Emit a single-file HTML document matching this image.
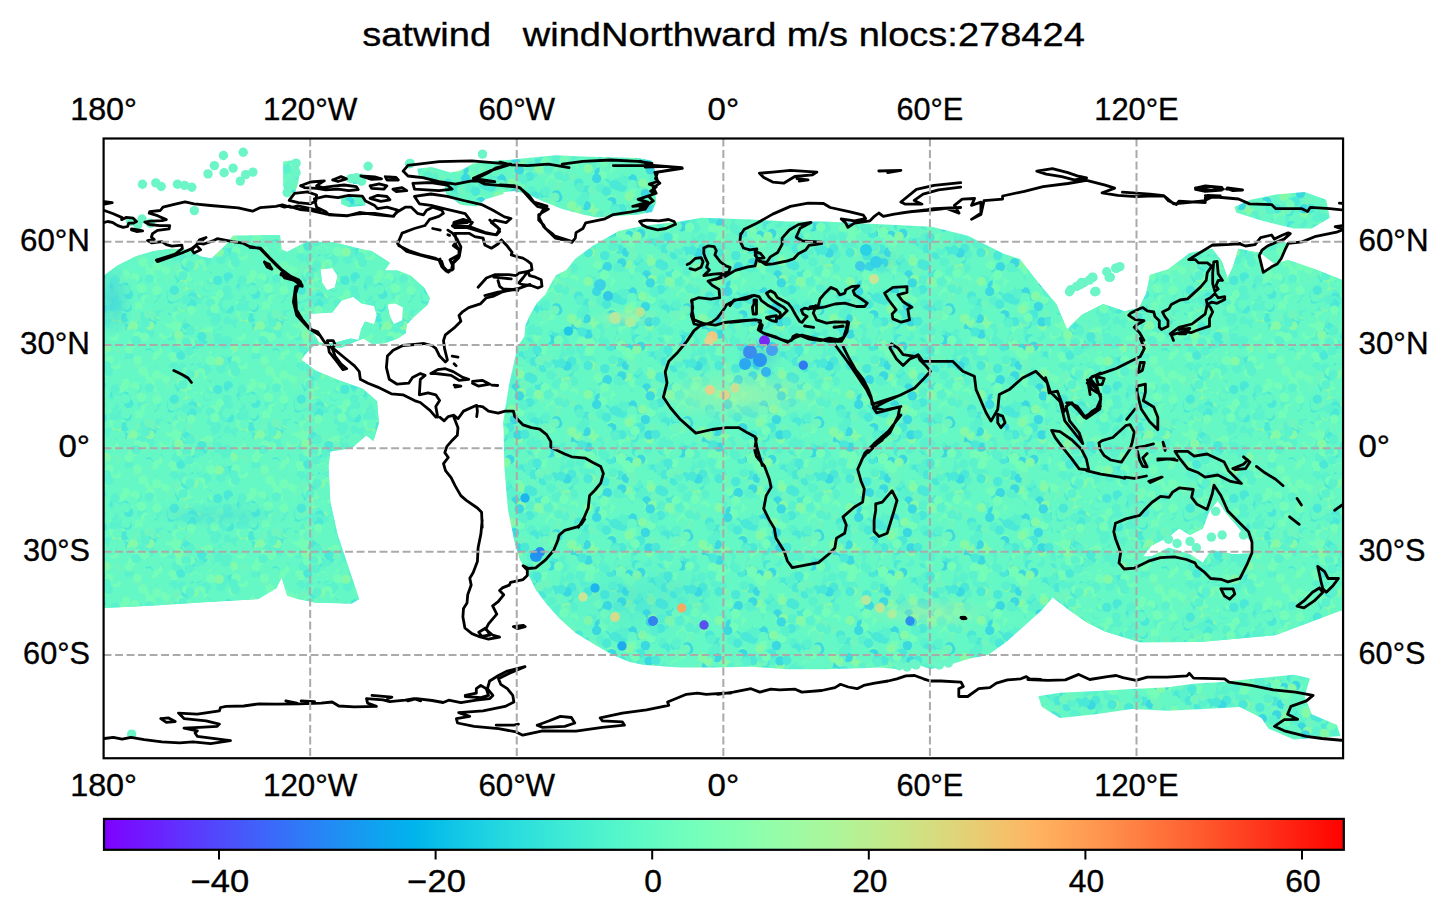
<!DOCTYPE html>
<html><head><meta charset="utf-8"><style>html,body{margin:0;padding:0;background:#fff;overflow:hidden}svg{display:block}</style></head>
<body><svg width="1447" height="917" viewBox="0 0 1447 917">
<rect width="1447" height="917" fill="#fff"/>
<defs><clipPath id="mapclip"><rect x="103.6" y="138.5" width="1239.48" height="619.74"/></clipPath></defs><defs><pattern id="dp" patternUnits="userSpaceOnUse" width="131" height="113"><rect width="131" height="113" fill="#64f8c6"/><circle cx="42.4" cy="17.0" r="4.7" fill="#74fdb9"/><circle cx="9.5" cy="60.6" r="4.7" fill="#5af2cd"/><circle cx="7.6" cy="57.3" r="4.7" fill="#66f8c4"/><circle cx="56.8" cy="7.9" r="4.7" fill="#66f8c4"/><circle cx="55.6" cy="93.4" r="4.7" fill="#66f8c4"/><circle cx="29.2" cy="70.9" r="4.7" fill="#6ef6be"/><circle cx="75.6" cy="44.8" r="4.7" fill="#6ef6be"/><circle cx="6.1" cy="97.0" r="4.7" fill="#66f8c4"/><circle cx="18.9" cy="13.3" r="4.7" fill="#5af2cd"/><circle cx="106.9" cy="20.4" r="4.7" fill="#74fdb9"/><circle cx="83.7" cy="42.1" r="4.7" fill="#74fdb9"/><circle cx="8.2" cy="6.7" r="4.7" fill="#66f8c4"/><circle cx="89.1" cy="48.3" r="4.7" fill="#5af2cd"/><circle cx="76.7" cy="51.2" r="4.7" fill="#66f8c4"/><circle cx="104.1" cy="79.0" r="4.7" fill="#66f8c4"/><circle cx="75.2" cy="59.3" r="4.7" fill="#3ad8e0"/><circle cx="95.6" cy="32.5" r="4.7" fill="#6ef6be"/><circle cx="15.5" cy="47.2" r="4.7" fill="#4ae8d6"/><circle cx="19.9" cy="55.3" r="4.7" fill="#66f8c4"/><circle cx="87.5" cy="86.4" r="4.7" fill="#74fdb9"/><circle cx="114.7" cy="35.5" r="4.7" fill="#4ae8d6"/><circle cx="77.9" cy="65.5" r="4.7" fill="#5af2cd"/><circle cx="110.0" cy="106.7" r="4.7" fill="#5af2cd"/><circle cx="87.0" cy="6.9" r="4.7" fill="#4ae8d6"/><circle cx="84.8" cy="-0.8" r="4.7" fill="#84f9a8"/><circle cx="84.8" cy="112.2" r="4.7" fill="#84f9a8"/><circle cx="37.3" cy="43.6" r="4.7" fill="#4ae8d6"/><circle cx="3.0" cy="52.2" r="4.7" fill="#66f8c4"/><circle cx="134.0" cy="52.2" r="4.7" fill="#66f8c4"/><circle cx="15.3" cy="6.7" r="4.7" fill="#4ae8d6"/><circle cx="16.9" cy="28.0" r="4.7" fill="#5af2cd"/><circle cx="114.2" cy="9.1" r="4.7" fill="#5af2cd"/><circle cx="72.0" cy="99.8" r="4.7" fill="#84f9a8"/><circle cx="113.2" cy="31.5" r="4.7" fill="#5af2cd"/><circle cx="47.0" cy="99.9" r="4.7" fill="#6ef6be"/><circle cx="19.8" cy="19.9" r="4.7" fill="#66f8c4"/><circle cx="30.6" cy="54.8" r="4.7" fill="#74fdb9"/><circle cx="34.4" cy="0.5" r="4.7" fill="#5af2cd"/><circle cx="34.4" cy="113.5" r="4.7" fill="#5af2cd"/><circle cx="48.4" cy="64.0" r="4.7" fill="#6ef6be"/><circle cx="90.5" cy="58.3" r="4.7" fill="#74fdb9"/><circle cx="88.6" cy="6.1" r="4.7" fill="#3ad8e0"/><circle cx="102.2" cy="98.8" r="4.7" fill="#84f9a8"/><circle cx="51.4" cy="45.1" r="4.7" fill="#66f8c4"/><circle cx="83.1" cy="7.0" r="4.7" fill="#66f8c4"/><circle cx="27.3" cy="18.3" r="4.7" fill="#5af2cd"/><circle cx="6.9" cy="0.0" r="4.7" fill="#66f8c4"/><circle cx="6.9" cy="113.0" r="4.7" fill="#66f8c4"/><circle cx="13.3" cy="41.1" r="4.7" fill="#66f8c4"/><circle cx="114.5" cy="69.4" r="4.7" fill="#66f8c4"/><circle cx="33.0" cy="39.3" r="4.7" fill="#5af2cd"/><circle cx="16.1" cy="95.9" r="4.7" fill="#6ef6be"/><circle cx="61.0" cy="54.7" r="4.7" fill="#66f8c4"/><circle cx="13.4" cy="38.7" r="4.7" fill="#66f8c4"/><circle cx="108.6" cy="18.2" r="4.7" fill="#66f8c4"/><circle cx="124.6" cy="59.7" r="4.7" fill="#66f8c4"/><circle cx="71.2" cy="3.1" r="4.7" fill="#74fdb9"/><circle cx="71.2" cy="116.1" r="4.7" fill="#74fdb9"/><circle cx="-2.8" cy="97.6" r="4.7" fill="#4ae8d6"/><circle cx="128.2" cy="97.6" r="4.7" fill="#4ae8d6"/><circle cx="34.2" cy="41.4" r="4.7" fill="#66f8c4"/><circle cx="101.1" cy="60.2" r="4.7" fill="#4ae8d6"/><circle cx="43.2" cy="25.2" r="4.7" fill="#84f9a8"/><circle cx="-2.0" cy="96.3" r="4.7" fill="#84f9a8"/><circle cx="129.0" cy="96.3" r="4.7" fill="#84f9a8"/><circle cx="107.2" cy="83.6" r="4.7" fill="#66f8c4"/><circle cx="67.8" cy="40.2" r="4.7" fill="#66f8c4"/><circle cx="3.7" cy="31.6" r="4.7" fill="#66f8c4"/><circle cx="134.7" cy="31.6" r="4.7" fill="#66f8c4"/><circle cx="90.7" cy="-4.9" r="4.7" fill="#5af2cd"/><circle cx="90.7" cy="108.1" r="4.7" fill="#5af2cd"/><circle cx="122.7" cy="-1.4" r="4.7" fill="#6ef6be"/><circle cx="122.7" cy="111.6" r="4.7" fill="#6ef6be"/><circle cx="47.8" cy="24.9" r="4.7" fill="#66f8c4"/><circle cx="25.8" cy="23.1" r="4.7" fill="#74fdb9"/><circle cx="117.9" cy="95.0" r="4.7" fill="#5af2cd"/><circle cx="85.5" cy="90.4" r="4.7" fill="#66f8c4"/><circle cx="86.5" cy="102.8" r="4.7" fill="#84f9a8"/><circle cx="98.3" cy="54.0" r="4.7" fill="#66f8c4"/><circle cx="103.4" cy="37.6" r="4.7" fill="#84f9a8"/><circle cx="-3.7" cy="44.7" r="4.7" fill="#5af2cd"/><circle cx="127.3" cy="44.7" r="4.7" fill="#5af2cd"/><circle cx="124.0" cy="81.9" r="4.7" fill="#66f8c4"/><circle cx="16.6" cy="17.1" r="4.7" fill="#3ad8e0"/><circle cx="105.7" cy="16.5" r="4.7" fill="#84f9a8"/><circle cx="-2.6" cy="74.3" r="4.7" fill="#5af2cd"/><circle cx="128.4" cy="74.3" r="4.7" fill="#5af2cd"/><circle cx="71.9" cy="14.8" r="4.7" fill="#66f8c4"/><circle cx="-3.8" cy="73.4" r="4.7" fill="#74fdb9"/><circle cx="127.2" cy="73.4" r="4.7" fill="#74fdb9"/><circle cx="122.3" cy="49.0" r="4.7" fill="#3ad8e0"/><circle cx="108.2" cy="23.8" r="4.7" fill="#66f8c4"/><circle cx="38.4" cy="27.2" r="4.7" fill="#74fdb9"/><circle cx="34.0" cy="47.3" r="4.7" fill="#66f8c4"/><circle cx="119.2" cy="40.0" r="4.7" fill="#5af2cd"/><circle cx="76.4" cy="102.2" r="4.7" fill="#5af2cd"/><circle cx="120.2" cy="56.7" r="4.7" fill="#74fdb9"/><circle cx="68.6" cy="2.1" r="4.7" fill="#5af2cd"/><circle cx="68.6" cy="115.1" r="4.7" fill="#5af2cd"/><circle cx="24.0" cy="0.4" r="4.7" fill="#84f9a8"/><circle cx="24.0" cy="113.4" r="4.7" fill="#84f9a8"/><circle cx="22.6" cy="53.5" r="4.7" fill="#4ae8d6"/><circle cx="72.9" cy="36.8" r="4.7" fill="#74fdb9"/><circle cx="72.8" cy="88.6" r="4.7" fill="#66f8c4"/><circle cx="73.4" cy="28.1" r="4.7" fill="#66f8c4"/><circle cx="101.2" cy="57.4" r="4.7" fill="#74fdb9"/><circle cx="99.6" cy="103.1" r="4.7" fill="#5af2cd"/><circle cx="80.2" cy="57.1" r="4.7" fill="#74fdb9"/><circle cx="90.7" cy="51.1" r="4.7" fill="#74fdb9"/><circle cx="62.6" cy="106.4" r="4.7" fill="#4ae8d6"/><circle cx="114.8" cy="106.5" r="4.7" fill="#66f8c4"/><circle cx="73.3" cy="106.6" r="4.7" fill="#84f9a8"/><circle cx="18.0" cy="13.7" r="4.7" fill="#5af2cd"/><circle cx="9.5" cy="27.2" r="4.7" fill="#66f8c4"/><circle cx="87.7" cy="88.6" r="4.7" fill="#3ad8e0"/><circle cx="20.2" cy="80.9" r="4.7" fill="#4ae8d6"/><circle cx="18.7" cy="99.8" r="4.7" fill="#6ef6be"/><circle cx="28.8" cy="107.6" r="4.7" fill="#5af2cd"/><circle cx="63.8" cy="-1.1" r="4.7" fill="#84f9a8"/><circle cx="63.8" cy="111.9" r="4.7" fill="#84f9a8"/><circle cx="21.2" cy="48.8" r="4.7" fill="#74fdb9"/><circle cx="44.4" cy="22.1" r="4.7" fill="#5af2cd"/><circle cx="94.6" cy="2.2" r="4.7" fill="#74fdb9"/><circle cx="94.6" cy="115.2" r="4.7" fill="#74fdb9"/><circle cx="57.7" cy="2.0" r="4.7" fill="#5af2cd"/><circle cx="57.7" cy="115.0" r="4.7" fill="#5af2cd"/><circle cx="81.7" cy="57.9" r="4.7" fill="#66f8c4"/><circle cx="-2.0" cy="89.1" r="4.7" fill="#6ef6be"/><circle cx="129.0" cy="89.1" r="4.7" fill="#6ef6be"/><circle cx="13.7" cy="30.0" r="4.7" fill="#66f8c4"/><circle cx="102.0" cy="30.6" r="4.7" fill="#66f8c4"/><circle cx="55.3" cy="103.0" r="4.7" fill="#84f9a8"/><circle cx="33.9" cy="16.9" r="4.7" fill="#3ad8e0"/><circle cx="74.7" cy="79.1" r="4.7" fill="#66f8c4"/><circle cx="7.5" cy="77.8" r="4.7" fill="#5af2cd"/><circle cx="9.5" cy="106.0" r="4.7" fill="#74fdb9"/><circle cx="105.0" cy="9.5" r="4.7" fill="#3ad8e0"/><circle cx="8.7" cy="97.5" r="4.7" fill="#5af2cd"/><circle cx="44.4" cy="62.5" r="4.7" fill="#6ef6be"/><circle cx="35.1" cy="14.6" r="4.7" fill="#74fdb9"/><circle cx="31.2" cy="12.4" r="4.7" fill="#66f8c4"/><circle cx="6.6" cy="22.8" r="4.7" fill="#5af2cd"/><circle cx="40.0" cy="85.8" r="4.7" fill="#66f8c4"/><circle cx="65.5" cy="20.1" r="4.7" fill="#5af2cd"/><circle cx="2.4" cy="28.3" r="4.7" fill="#66f8c4"/><circle cx="133.4" cy="28.3" r="4.7" fill="#66f8c4"/><circle cx="96.0" cy="62.3" r="4.7" fill="#66f8c4"/><circle cx="62.2" cy="105.6" r="4.7" fill="#66f8c4"/><circle cx="107.3" cy="48.8" r="4.7" fill="#5af2cd"/><circle cx="109.3" cy="44.4" r="4.7" fill="#74fdb9"/><circle cx="90.1" cy="-2.0" r="4.7" fill="#5af2cd"/><circle cx="90.1" cy="111.0" r="4.7" fill="#5af2cd"/><circle cx="109.0" cy="79.9" r="4.7" fill="#74fdb9"/><circle cx="53.0" cy="39.3" r="4.7" fill="#66f8c4"/><circle cx="17.0" cy="8.0" r="4.7" fill="#4ae8d6"/><circle cx="33.5" cy="18.4" r="4.7" fill="#66f8c4"/><circle cx="110.2" cy="98.4" r="4.7" fill="#4ae8d6"/><circle cx="36.9" cy="27.4" r="4.7" fill="#66f8c4"/><circle cx="60.2" cy="17.8" r="4.7" fill="#5af2cd"/><circle cx="34.5" cy="-4.3" r="4.7" fill="#6ef6be"/><circle cx="34.5" cy="108.7" r="4.7" fill="#6ef6be"/><circle cx="71.7" cy="27.6" r="4.7" fill="#6ef6be"/><circle cx="40.6" cy="40.3" r="4.7" fill="#66f8c4"/><circle cx="50.0" cy="53.6" r="4.7" fill="#74fdb9"/><circle cx="26.3" cy="57.0" r="4.7" fill="#66f8c4"/><circle cx="34.6" cy="10.1" r="4.7" fill="#5af2cd"/><circle cx="5.5" cy="2.5" r="4.7" fill="#5af2cd"/><circle cx="5.5" cy="115.5" r="4.7" fill="#5af2cd"/><circle cx="30.5" cy="66.2" r="4.7" fill="#74fdb9"/><circle cx="98.3" cy="74.3" r="4.7" fill="#4ae8d6"/><circle cx="115.2" cy="44.0" r="4.7" fill="#5af2cd"/><circle cx="-2.0" cy="16.9" r="4.7" fill="#4ae8d6"/><circle cx="129.0" cy="16.9" r="4.7" fill="#4ae8d6"/><circle cx="84.3" cy="4.9" r="4.7" fill="#84f9a8"/><circle cx="84.3" cy="117.9" r="4.7" fill="#84f9a8"/><circle cx="116.8" cy="70.9" r="4.7" fill="#4ae8d6"/><circle cx="106.4" cy="15.7" r="4.7" fill="#74fdb9"/><circle cx="66.1" cy="94.3" r="4.7" fill="#84f9a8"/><circle cx="108.3" cy="66.0" r="4.7" fill="#3ad8e0"/><circle cx="89.5" cy="78.3" r="4.7" fill="#66f8c4"/><circle cx="4.1" cy="15.0" r="4.7" fill="#5af2cd"/><circle cx="135.1" cy="15.0" r="4.7" fill="#5af2cd"/><circle cx="13.7" cy="94.4" r="4.7" fill="#74fdb9"/><circle cx="82.2" cy="70.8" r="4.7" fill="#4ae8d6"/><circle cx="64.1" cy="0.4" r="4.7" fill="#84f9a8"/><circle cx="64.1" cy="113.4" r="4.7" fill="#84f9a8"/><circle cx="98.0" cy="56.8" r="4.7" fill="#74fdb9"/><circle cx="86.4" cy="7.5" r="4.7" fill="#4ae8d6"/><circle cx="33.0" cy="8.4" r="4.7" fill="#66f8c4"/><circle cx="95.5" cy="23.2" r="4.7" fill="#4ae8d6"/><circle cx="-3.2" cy="55.8" r="4.7" fill="#5af2cd"/><circle cx="127.8" cy="55.8" r="4.7" fill="#5af2cd"/><circle cx="62.8" cy="77.3" r="4.7" fill="#4ae8d6"/><circle cx="80.8" cy="72.6" r="4.7" fill="#66f8c4"/><circle cx="19.3" cy="28.7" r="4.7" fill="#4ae8d6"/><circle cx="39.9" cy="64.2" r="4.7" fill="#66f8c4"/><circle cx="7.9" cy="30.4" r="4.7" fill="#4ae8d6"/><circle cx="90.7" cy="76.4" r="4.7" fill="#66f8c4"/><circle cx="67.7" cy="52.5" r="4.7" fill="#5af2cd"/><circle cx="15.5" cy="101.0" r="4.7" fill="#66f8c4"/><circle cx="-2.9" cy="105.8" r="4.7" fill="#66f8c4"/><circle cx="128.1" cy="105.8" r="4.7" fill="#66f8c4"/><circle cx="60.1" cy="92.6" r="4.7" fill="#6ef6be"/><circle cx="58.9" cy="30.4" r="4.7" fill="#66f8c4"/><circle cx="123.9" cy="23.8" r="4.7" fill="#74fdb9"/><circle cx="18.6" cy="59.2" r="4.7" fill="#6ef6be"/><circle cx="17.4" cy="92.7" r="4.7" fill="#74fdb9"/><circle cx="116.2" cy="79.5" r="4.7" fill="#66f8c4"/><circle cx="117.6" cy="54.9" r="4.7" fill="#66f8c4"/><circle cx="0.5" cy="55.6" r="4.7" fill="#5af2cd"/><circle cx="131.5" cy="55.6" r="4.7" fill="#5af2cd"/><circle cx="39.6" cy="15.9" r="4.7" fill="#5af2cd"/><circle cx="41.4" cy="94.9" r="4.7" fill="#66f8c4"/><circle cx="98.3" cy="94.8" r="4.7" fill="#66f8c4"/><circle cx="121.4" cy="80.6" r="4.7" fill="#3ad8e0"/><circle cx="38.0" cy="42.1" r="4.7" fill="#5af2cd"/><circle cx="-0.2" cy="66.6" r="4.7" fill="#5af2cd"/><circle cx="130.8" cy="66.6" r="4.7" fill="#5af2cd"/><circle cx="56.1" cy="31.1" r="4.7" fill="#66f8c4"/><circle cx="13.3" cy="94.3" r="4.7" fill="#66f8c4"/><circle cx="122.6" cy="28.2" r="4.7" fill="#66f8c4"/><circle cx="66.9" cy="21.5" r="4.7" fill="#5af2cd"/><circle cx="125.3" cy="99.9" r="4.7" fill="#84f9a8"/><circle cx="82.6" cy="103.2" r="4.7" fill="#6ef6be"/><circle cx="71.9" cy="81.3" r="4.7" fill="#66f8c4"/><circle cx="95.9" cy="50.9" r="4.7" fill="#4ae8d6"/><circle cx="84.4" cy="32.3" r="4.7" fill="#66f8c4"/><circle cx="121.4" cy="14.4" r="4.7" fill="#5af2cd"/><circle cx="45.0" cy="33.6" r="4.7" fill="#4ae8d6"/><circle cx="-3.1" cy="29.4" r="4.7" fill="#74fdb9"/><circle cx="127.9" cy="29.4" r="4.7" fill="#74fdb9"/><circle cx="39.4" cy="63.0" r="4.7" fill="#5af2cd"/><circle cx="21.9" cy="18.3" r="4.7" fill="#66f8c4"/><circle cx="118.7" cy="56.2" r="4.7" fill="#66f8c4"/><circle cx="118.7" cy="-0.4" r="4.7" fill="#5af2cd"/><circle cx="118.7" cy="112.6" r="4.7" fill="#5af2cd"/><circle cx="18.3" cy="21.7" r="4.7" fill="#66f8c4"/><circle cx="44.8" cy="10.3" r="4.7" fill="#66f8c4"/><circle cx="33.8" cy="64.4" r="4.7" fill="#3ad8e0"/><circle cx="98.2" cy="46.6" r="4.7" fill="#5af2cd"/><circle cx="68.7" cy="42.6" r="4.7" fill="#5af2cd"/><circle cx="8.1" cy="31.4" r="4.7" fill="#6ef6be"/><circle cx="16.5" cy="56.9" r="4.7" fill="#74fdb9"/><circle cx="113.0" cy="24.4" r="4.7" fill="#66f8c4"/><circle cx="32.5" cy="45.2" r="4.7" fill="#5af2cd"/><circle cx="125.0" cy="95.9" r="4.7" fill="#3ad8e0"/><circle cx="2.9" cy="3.6" r="4.7" fill="#4ae8d6"/><circle cx="2.9" cy="116.6" r="4.7" fill="#4ae8d6"/><circle cx="133.9" cy="3.6" r="4.7" fill="#4ae8d6"/><circle cx="133.9" cy="116.6" r="4.7" fill="#4ae8d6"/><circle cx="117.3" cy="53.5" r="4.7" fill="#74fdb9"/><circle cx="0.0" cy="44.2" r="4.7" fill="#6ef6be"/><circle cx="131.0" cy="44.2" r="4.7" fill="#6ef6be"/><circle cx="108.2" cy="96.7" r="4.7" fill="#6ef6be"/><circle cx="32.5" cy="12.3" r="4.7" fill="#66f8c4"/><circle cx="68.4" cy="77.1" r="4.7" fill="#6ef6be"/><circle cx="94.5" cy="73.2" r="4.7" fill="#4ae8d6"/><circle cx="59.9" cy="62.3" r="4.7" fill="#66f8c4"/><circle cx="102.5" cy="26.3" r="4.7" fill="#3ad8e0"/><circle cx="84.6" cy="34.3" r="4.7" fill="#66f8c4"/><circle cx="33.0" cy="71.9" r="4.7" fill="#4ae8d6"/><circle cx="14.7" cy="7.9" r="4.7" fill="#74fdb9"/><circle cx="76.4" cy="43.9" r="4.7" fill="#66f8c4"/><circle cx="78.7" cy="1.2" r="4.7" fill="#5af2cd"/><circle cx="78.7" cy="114.2" r="4.7" fill="#5af2cd"/><circle cx="60.4" cy="-4.6" r="4.7" fill="#74fdb9"/><circle cx="60.4" cy="108.4" r="4.7" fill="#74fdb9"/><circle cx="115.8" cy="53.7" r="4.7" fill="#66f8c4"/><circle cx="32.4" cy="-4.5" r="4.7" fill="#4ae8d6"/><circle cx="32.4" cy="108.5" r="4.7" fill="#4ae8d6"/><circle cx="40.3" cy="2.5" r="4.7" fill="#5af2cd"/><circle cx="40.3" cy="115.5" r="4.7" fill="#5af2cd"/><circle cx="88.4" cy="47.5" r="4.7" fill="#66f8c4"/><circle cx="87.4" cy="104.5" r="4.7" fill="#66f8c4"/><circle cx="4.5" cy="38.2" r="4.7" fill="#5af2cd"/><circle cx="135.5" cy="38.2" r="4.7" fill="#5af2cd"/><circle cx="89.4" cy="22.4" r="4.7" fill="#84f9a8"/><circle cx="96.8" cy="57.1" r="4.7" fill="#66f8c4"/><circle cx="-3.9" cy="35.2" r="4.7" fill="#84f9a8"/><circle cx="127.1" cy="35.2" r="4.7" fill="#84f9a8"/><circle cx="30.2" cy="25.0" r="4.7" fill="#4ae8d6"/><circle cx="38.6" cy="107.6" r="4.7" fill="#5af2cd"/><circle cx="24.5" cy="25.2" r="4.7" fill="#5af2cd"/><circle cx="87.2" cy="107.2" r="4.7" fill="#66f8c4"/><circle cx="51.5" cy="24.1" r="4.7" fill="#6ef6be"/><circle cx="18.6" cy="5.9" r="4.7" fill="#66f8c4"/><circle cx="51.5" cy="101.5" r="4.7" fill="#3ad8e0"/><circle cx="96.0" cy="-0.3" r="4.7" fill="#6ef6be"/><circle cx="96.0" cy="112.7" r="4.7" fill="#6ef6be"/><circle cx="43.1" cy="21.0" r="4.7" fill="#6ef6be"/><circle cx="97.8" cy="3.6" r="4.7" fill="#4ae8d6"/><circle cx="97.8" cy="116.6" r="4.7" fill="#4ae8d6"/><circle cx="49.6" cy="42.2" r="4.7" fill="#5af2cd"/><circle cx="22.2" cy="0.3" r="4.7" fill="#66f8c4"/><circle cx="22.2" cy="113.3" r="4.7" fill="#66f8c4"/><circle cx="46.0" cy="108.0" r="4.7" fill="#66f8c4"/><circle cx="-4.7" cy="23.4" r="4.7" fill="#5af2cd"/><circle cx="126.3" cy="23.4" r="4.7" fill="#5af2cd"/><circle cx="107.6" cy="92.9" r="4.7" fill="#5af2cd"/><circle cx="6.5" cy="53.5" r="4.7" fill="#5af2cd"/><circle cx="120.5" cy="21.8" r="4.7" fill="#5af2cd"/><circle cx="117.5" cy="3.4" r="4.7" fill="#5af2cd"/><circle cx="117.5" cy="116.4" r="4.7" fill="#5af2cd"/><circle cx="106.3" cy="86.6" r="4.7" fill="#66f8c4"/><circle cx="4.6" cy="7.1" r="4.7" fill="#6ef6be"/><circle cx="135.6" cy="7.1" r="4.7" fill="#6ef6be"/><circle cx="33.7" cy="84.4" r="4.7" fill="#3ad8e0"/><circle cx="44.4" cy="30.8" r="4.7" fill="#6ef6be"/><circle cx="80.8" cy="29.6" r="4.7" fill="#4ae8d6"/><circle cx="41.5" cy="31.1" r="4.7" fill="#66f8c4"/><circle cx="99.0" cy="103.6" r="4.7" fill="#74fdb9"/><circle cx="123.6" cy="2.7" r="4.7" fill="#66f8c4"/><circle cx="123.6" cy="115.7" r="4.7" fill="#66f8c4"/><circle cx="62.2" cy="-4.9" r="4.7" fill="#6ef6be"/><circle cx="62.2" cy="108.1" r="4.7" fill="#6ef6be"/><circle cx="50.6" cy="28.4" r="4.7" fill="#5af2cd"/><circle cx="64.6" cy="104.9" r="4.7" fill="#66f8c4"/><circle cx="105.1" cy="83.4" r="4.7" fill="#84f9a8"/><circle cx="101.2" cy="68.6" r="4.7" fill="#5af2cd"/><circle cx="41.9" cy="40.9" r="4.7" fill="#84f9a8"/><circle cx="10.4" cy="22.3" r="4.7" fill="#4ae8d6"/><circle cx="32.4" cy="7.3" r="4.7" fill="#66f8c4"/><circle cx="72.4" cy="36.8" r="4.7" fill="#6ef6be"/><circle cx="115.7" cy="-1.4" r="4.7" fill="#66f8c4"/><circle cx="115.7" cy="111.6" r="4.7" fill="#66f8c4"/><circle cx="11.0" cy="10.9" r="4.7" fill="#5af2cd"/><circle cx="93.0" cy="50.5" r="4.7" fill="#66f8c4"/><circle cx="54.6" cy="70.1" r="4.7" fill="#4ae8d6"/><circle cx="98.0" cy="95.7" r="4.7" fill="#4ae8d6"/><circle cx="15.9" cy="95.0" r="4.7" fill="#66f8c4"/><circle cx="74.3" cy="42.1" r="4.7" fill="#4ae8d6"/><circle cx="26.1" cy="28.0" r="4.7" fill="#66f8c4"/><circle cx="20.1" cy="99.9" r="4.7" fill="#74fdb9"/><circle cx="42.8" cy="44.8" r="4.7" fill="#6ef6be"/><circle cx="66.5" cy="26.1" r="4.7" fill="#84f9a8"/><circle cx="85.6" cy="-1.0" r="4.7" fill="#66f8c4"/><circle cx="85.6" cy="112.0" r="4.7" fill="#66f8c4"/><circle cx="62.2" cy="92.6" r="4.7" fill="#3ad8e0"/><circle cx="119.8" cy="4.6" r="4.7" fill="#66f8c4"/><circle cx="119.8" cy="117.6" r="4.7" fill="#66f8c4"/><circle cx="15.6" cy="21.4" r="4.7" fill="#6ef6be"/><circle cx="76.4" cy="105.1" r="4.7" fill="#5af2cd"/><circle cx="113.5" cy="50.7" r="4.7" fill="#66f8c4"/><circle cx="101.9" cy="106.9" r="4.7" fill="#66f8c4"/><circle cx="78.1" cy="70.1" r="4.7" fill="#66f8c4"/><circle cx="48.3" cy="16.0" r="4.7" fill="#66f8c4"/><circle cx="33.4" cy="67.7" r="4.7" fill="#74fdb9"/><circle cx="26.7" cy="1.3" r="4.7" fill="#5af2cd"/><circle cx="26.7" cy="114.3" r="4.7" fill="#5af2cd"/><circle cx="88.9" cy="20.9" r="4.7" fill="#5af2cd"/><circle cx="26.6" cy="89.9" r="4.7" fill="#74fdb9"/><circle cx="8.3" cy="11.5" r="4.7" fill="#5af2cd"/><circle cx="72.1" cy="72.2" r="4.7" fill="#66f8c4"/><circle cx="21.4" cy="78.6" r="4.7" fill="#5af2cd"/><circle cx="37.1" cy="34.8" r="4.7" fill="#6ef6be"/><circle cx="40.9" cy="64.0" r="4.7" fill="#5af2cd"/><circle cx="54.6" cy="97.7" r="4.7" fill="#6ef6be"/><circle cx="47.7" cy="22.3" r="4.7" fill="#4ae8d6"/><circle cx="26.7" cy="0.7" r="4.7" fill="#3ad8e0"/><circle cx="26.7" cy="113.7" r="4.7" fill="#3ad8e0"/><circle cx="55.5" cy="92.7" r="4.7" fill="#5af2cd"/><circle cx="115.7" cy="52.1" r="4.7" fill="#66f8c4"/><circle cx="1.9" cy="62.3" r="4.7" fill="#74fdb9"/><circle cx="132.9" cy="62.3" r="4.7" fill="#74fdb9"/><circle cx="119.2" cy="10.1" r="4.7" fill="#74fdb9"/><circle cx="48.6" cy="57.0" r="4.7" fill="#66f8c4"/><circle cx="37.1" cy="58.9" r="4.7" fill="#6ef6be"/><circle cx="14.3" cy="55.4" r="4.7" fill="#84f9a8"/><circle cx="-4.3" cy="22.3" r="4.7" fill="#66f8c4"/><circle cx="126.7" cy="22.3" r="4.7" fill="#66f8c4"/><circle cx="123.5" cy="-2.8" r="4.7" fill="#5af2cd"/><circle cx="123.5" cy="110.2" r="4.7" fill="#5af2cd"/><circle cx="7.0" cy="104.7" r="4.7" fill="#5af2cd"/><circle cx="118.5" cy="70.1" r="4.7" fill="#84f9a8"/><circle cx="21.0" cy="88.8" r="4.7" fill="#66f8c4"/><circle cx="53.0" cy="95.6" r="4.7" fill="#84f9a8"/><circle cx="24.0" cy="24.6" r="4.7" fill="#5af2cd"/><circle cx="67.8" cy="43.3" r="4.7" fill="#66f8c4"/><circle cx="32.4" cy="81.9" r="4.7" fill="#3ad8e0"/><circle cx="5.4" cy="63.5" r="4.7" fill="#4ae8d6"/><circle cx="5.0" cy="94.7" r="4.7" fill="#66f8c4"/><circle cx="136.0" cy="94.7" r="4.7" fill="#66f8c4"/><circle cx="78.5" cy="62.2" r="4.7" fill="#74fdb9"/><circle cx="40.1" cy="47.5" r="4.7" fill="#74fdb9"/><circle cx="55.8" cy="74.4" r="4.7" fill="#5af2cd"/><circle cx="57.4" cy="2.6" r="4.7" fill="#74fdb9"/><circle cx="57.4" cy="115.6" r="4.7" fill="#74fdb9"/><circle cx="64.1" cy="26.6" r="4.7" fill="#4ae8d6"/><circle cx="102.2" cy="51.8" r="4.7" fill="#66f8c4"/><circle cx="62.0" cy="12.1" r="4.7" fill="#66f8c4"/><circle cx="56.4" cy="10.4" r="4.7" fill="#5af2cd"/><circle cx="66.8" cy="4.6" r="4.7" fill="#74fdb9"/><circle cx="66.8" cy="117.6" r="4.7" fill="#74fdb9"/><circle cx="10.8" cy="82.9" r="4.7" fill="#4ae8d6"/><circle cx="67.0" cy="6.1" r="4.7" fill="#74fdb9"/><circle cx="49.5" cy="107.4" r="4.7" fill="#66f8c4"/><circle cx="112.3" cy="-0.4" r="4.7" fill="#4ae8d6"/><circle cx="112.3" cy="112.6" r="4.7" fill="#4ae8d6"/><circle cx="106.8" cy="21.9" r="4.7" fill="#6ef6be"/><circle cx="64.4" cy="-4.9" r="4.7" fill="#3ad8e0"/><circle cx="64.4" cy="108.1" r="4.7" fill="#3ad8e0"/><circle cx="21.6" cy="89.1" r="4.7" fill="#6ef6be"/><circle cx="8.6" cy="39.7" r="4.7" fill="#4ae8d6"/><circle cx="20.8" cy="101.3" r="4.7" fill="#66f8c4"/><circle cx="106.8" cy="16.2" r="4.7" fill="#74fdb9"/><circle cx="120.5" cy="23.5" r="4.7" fill="#66f8c4"/><circle cx="66.3" cy="36.1" r="4.7" fill="#66f8c4"/><circle cx="23.9" cy="18.2" r="4.7" fill="#6ef6be"/><circle cx="89.0" cy="101.2" r="4.7" fill="#66f8c4"/><circle cx="102.8" cy="13.0" r="4.7" fill="#74fdb9"/><circle cx="83.4" cy="40.7" r="4.7" fill="#3ad8e0"/><circle cx="72.7" cy="65.5" r="4.7" fill="#3ad8e0"/><circle cx="13.7" cy="-0.8" r="4.7" fill="#74fdb9"/><circle cx="13.7" cy="112.2" r="4.7" fill="#74fdb9"/><circle cx="51.6" cy="90.1" r="4.7" fill="#66f8c4"/><circle cx="-1.2" cy="65.2" r="4.7" fill="#5af2cd"/><circle cx="129.8" cy="65.2" r="4.7" fill="#5af2cd"/><circle cx="100.2" cy="50.0" r="4.7" fill="#66f8c4"/><circle cx="97.4" cy="5.5" r="4.7" fill="#84f9a8"/><circle cx="33.2" cy="72.2" r="4.7" fill="#6ef6be"/><circle cx="76.7" cy="75.0" r="4.7" fill="#5af2cd"/><circle cx="0.2" cy="3.8" r="4.7" fill="#66f8c4"/><circle cx="0.2" cy="116.8" r="4.7" fill="#66f8c4"/><circle cx="131.2" cy="3.8" r="4.7" fill="#66f8c4"/><circle cx="131.2" cy="116.8" r="4.7" fill="#66f8c4"/><circle cx="80.7" cy="48.8" r="4.7" fill="#74fdb9"/><circle cx="117.3" cy="14.9" r="4.7" fill="#66f8c4"/><circle cx="85.6" cy="2.5" r="4.7" fill="#66f8c4"/><circle cx="85.6" cy="115.5" r="4.7" fill="#66f8c4"/><circle cx="46.5" cy="12.0" r="4.7" fill="#5af2cd"/><circle cx="29.4" cy="65.9" r="4.7" fill="#74fdb9"/><circle cx="26.7" cy="70.5" r="4.7" fill="#5af2cd"/><circle cx="17.7" cy="105.8" r="4.7" fill="#66f8c4"/><circle cx="19.6" cy="10.8" r="4.7" fill="#74fdb9"/><circle cx="114.1" cy="88.4" r="4.7" fill="#5af2cd"/><circle cx="34.6" cy="1.3" r="4.7" fill="#74fdb9"/><circle cx="34.6" cy="114.3" r="4.7" fill="#74fdb9"/><circle cx="73.7" cy="39.6" r="4.7" fill="#74fdb9"/><circle cx="58.1" cy="105.9" r="4.7" fill="#4ae8d6"/><circle cx="32.6" cy="102.1" r="4.7" fill="#66f8c4"/><circle cx="69.6" cy="45.9" r="4.7" fill="#66f8c4"/><circle cx="7.6" cy="88.0" r="4.7" fill="#66f8c4"/><circle cx="72.2" cy="106.3" r="4.7" fill="#66f8c4"/><circle cx="26.1" cy="68.7" r="4.7" fill="#74fdb9"/><circle cx="84.0" cy="91.9" r="4.7" fill="#66f8c4"/><circle cx="40.5" cy="33.9" r="4.7" fill="#66f8c4"/><circle cx="116.5" cy="88.5" r="4.7" fill="#4ae8d6"/><circle cx="0.8" cy="95.4" r="4.7" fill="#4ae8d6"/><circle cx="131.8" cy="95.4" r="4.7" fill="#4ae8d6"/><circle cx="60.9" cy="83.8" r="4.7" fill="#5af2cd"/><circle cx="29.6" cy="11.9" r="4.7" fill="#66f8c4"/><circle cx="5.1" cy="37.9" r="4.7" fill="#4ae8d6"/><circle cx="91.1" cy="95.5" r="4.7" fill="#4ae8d6"/><circle cx="34.8" cy="62.6" r="4.7" fill="#5af2cd"/><circle cx="103.3" cy="59.1" r="4.7" fill="#66f8c4"/><circle cx="84.1" cy="-3.9" r="4.7" fill="#66f8c4"/><circle cx="84.1" cy="109.1" r="4.7" fill="#66f8c4"/><circle cx="115.3" cy="1.7" r="4.7" fill="#66f8c4"/><circle cx="115.3" cy="114.7" r="4.7" fill="#66f8c4"/><circle cx="30.9" cy="84.1" r="4.7" fill="#6ef6be"/><circle cx="97.7" cy="36.9" r="4.7" fill="#3ad8e0"/><circle cx="43.0" cy="27.0" r="4.7" fill="#3ad8e0"/><circle cx="82.6" cy="78.3" r="4.7" fill="#4ae8d6"/><circle cx="-2.7" cy="53.1" r="4.7" fill="#84f9a8"/><circle cx="128.3" cy="53.1" r="4.7" fill="#84f9a8"/><circle cx="91.4" cy="96.9" r="4.7" fill="#5af2cd"/><circle cx="94.9" cy="64.4" r="4.7" fill="#5af2cd"/><circle cx="27.8" cy="70.4" r="4.7" fill="#66f8c4"/><circle cx="119.3" cy="16.3" r="4.7" fill="#66f8c4"/><circle cx="14.0" cy="105.0" r="4.7" fill="#5af2cd"/><circle cx="18.6" cy="3.2" r="4.7" fill="#66f8c4"/><circle cx="18.6" cy="116.2" r="4.7" fill="#66f8c4"/><circle cx="90.7" cy="71.6" r="4.7" fill="#4ae8d6"/><circle cx="96.5" cy="7.4" r="4.7" fill="#74fdb9"/><circle cx="47.6" cy="92.4" r="4.7" fill="#84f9a8"/><circle cx="116.8" cy="7.5" r="4.7" fill="#3ad8e0"/><circle cx="119.8" cy="106.7" r="4.7" fill="#66f8c4"/><circle cx="26.9" cy="12.7" r="4.7" fill="#66f8c4"/><circle cx="111.1" cy="91.8" r="4.7" fill="#74fdb9"/><circle cx="108.1" cy="71.4" r="4.7" fill="#66f8c4"/><circle cx="13.1" cy="11.1" r="4.7" fill="#4ae8d6"/><circle cx="26.9" cy="36.1" r="4.7" fill="#5af2cd"/><circle cx="2.7" cy="29.0" r="4.7" fill="#66f8c4"/><circle cx="133.7" cy="29.0" r="4.7" fill="#66f8c4"/><circle cx="93.8" cy="41.6" r="4.7" fill="#5af2cd"/><circle cx="-4.7" cy="56.9" r="4.7" fill="#3ad8e0"/><circle cx="126.3" cy="56.9" r="4.7" fill="#3ad8e0"/><circle cx="81.0" cy="3.5" r="4.7" fill="#5af2cd"/><circle cx="81.0" cy="116.5" r="4.7" fill="#5af2cd"/><circle cx="57.2" cy="87.4" r="4.7" fill="#5af2cd"/><circle cx="92.3" cy="60.8" r="4.7" fill="#66f8c4"/><circle cx="113.0" cy="10.3" r="4.7" fill="#84f9a8"/><circle cx="22.3" cy="0.1" r="4.7" fill="#66f8c4"/><circle cx="22.3" cy="113.1" r="4.7" fill="#66f8c4"/><circle cx="99.8" cy="-2.5" r="4.7" fill="#66f8c4"/><circle cx="99.8" cy="110.5" r="4.7" fill="#66f8c4"/><circle cx="64.3" cy="55.5" r="4.7" fill="#84f9a8"/><circle cx="24.2" cy="55.9" r="4.7" fill="#5af2cd"/><circle cx="109.0" cy="29.4" r="4.7" fill="#6ef6be"/><circle cx="37.2" cy="24.3" r="4.7" fill="#4ae8d6"/><circle cx="65.3" cy="12.4" r="4.7" fill="#74fdb9"/></pattern></defs><defs><pattern id="dpA" patternUnits="userSpaceOnUse" width="127" height="109"><rect width="127" height="109" fill="#64f8c6"/><circle cx="57.5" cy="61.0" r="4.7" fill="#84f9a8"/><circle cx="59.1" cy="55.4" r="4.7" fill="#5af2cd"/><circle cx="23.5" cy="55.8" r="4.7" fill="#74fdb9"/><circle cx="100.7" cy="10.3" r="4.7" fill="#66f8c4"/><circle cx="11.5" cy="88.3" r="4.7" fill="#74fdb9"/><circle cx="5.3" cy="-1.9" r="4.7" fill="#6ef6be"/><circle cx="5.3" cy="107.1" r="4.7" fill="#6ef6be"/><circle cx="83.0" cy="67.1" r="4.7" fill="#66f8c4"/><circle cx="1.9" cy="57.6" r="4.7" fill="#66f8c4"/><circle cx="128.9" cy="57.6" r="4.7" fill="#66f8c4"/><circle cx="24.2" cy="26.4" r="4.7" fill="#66f8c4"/><circle cx="58.9" cy="48.0" r="4.7" fill="#4ae8d6"/><circle cx="65.9" cy="69.8" r="4.7" fill="#5af2cd"/><circle cx="84.1" cy="49.8" r="4.7" fill="#66f8c4"/><circle cx="-0.3" cy="-0.5" r="4.7" fill="#4ae8d6"/><circle cx="-0.3" cy="108.5" r="4.7" fill="#4ae8d6"/><circle cx="126.7" cy="-0.5" r="4.7" fill="#4ae8d6"/><circle cx="126.7" cy="108.5" r="4.7" fill="#4ae8d6"/><circle cx="89.9" cy="34.4" r="4.7" fill="#66f8c4"/><circle cx="36.7" cy="7.7" r="4.7" fill="#74fdb9"/><circle cx="50.9" cy="92.3" r="4.7" fill="#5af2cd"/><circle cx="121.7" cy="92.4" r="4.7" fill="#66f8c4"/><circle cx="26.6" cy="99.2" r="4.7" fill="#5af2cd"/><circle cx="-2.5" cy="43.3" r="4.7" fill="#66f8c4"/><circle cx="124.5" cy="43.3" r="4.7" fill="#66f8c4"/><circle cx="79.9" cy="84.9" r="4.7" fill="#66f8c4"/><circle cx="11.1" cy="36.3" r="4.7" fill="#6ef6be"/><circle cx="96.3" cy="12.9" r="4.7" fill="#66f8c4"/><circle cx="12.8" cy="6.5" r="4.7" fill="#74fdb9"/><circle cx="22.6" cy="61.0" r="4.7" fill="#5af2cd"/><circle cx="24.2" cy="79.8" r="4.7" fill="#66f8c4"/><circle cx="81.8" cy="12.7" r="4.7" fill="#5af2cd"/><circle cx="27.0" cy="29.4" r="4.7" fill="#6ef6be"/><circle cx="102.0" cy="33.2" r="4.7" fill="#4ae8d6"/><circle cx="26.8" cy="43.0" r="4.7" fill="#4ae8d6"/><circle cx="81.5" cy="10.9" r="4.7" fill="#6ef6be"/><circle cx="27.1" cy="28.2" r="4.7" fill="#74fdb9"/><circle cx="41.8" cy="32.3" r="4.7" fill="#66f8c4"/><circle cx="11.4" cy="63.5" r="4.7" fill="#66f8c4"/><circle cx="76.4" cy="40.5" r="4.7" fill="#5af2cd"/><circle cx="121.8" cy="52.7" r="4.7" fill="#5af2cd"/><circle cx="110.0" cy="19.9" r="4.7" fill="#66f8c4"/><circle cx="115.4" cy="89.1" r="4.7" fill="#66f8c4"/><circle cx="24.1" cy="80.6" r="4.7" fill="#84f9a8"/><circle cx="25.0" cy="103.6" r="4.7" fill="#4ae8d6"/><circle cx="76.6" cy="45.9" r="4.7" fill="#66f8c4"/><circle cx="4.9" cy="-4.1" r="4.7" fill="#66f8c4"/><circle cx="4.9" cy="104.9" r="4.7" fill="#66f8c4"/><circle cx="131.9" cy="-4.1" r="4.7" fill="#66f8c4"/><circle cx="131.9" cy="104.9" r="4.7" fill="#66f8c4"/><circle cx="89.5" cy="28.0" r="4.7" fill="#4ae8d6"/><circle cx="75.8" cy="32.0" r="4.7" fill="#66f8c4"/><circle cx="91.5" cy="7.5" r="4.7" fill="#66f8c4"/><circle cx="71.0" cy="92.9" r="4.7" fill="#5af2cd"/><circle cx="35.6" cy="100.0" r="4.7" fill="#66f8c4"/><circle cx="2.1" cy="29.3" r="4.7" fill="#5af2cd"/><circle cx="129.1" cy="29.3" r="4.7" fill="#5af2cd"/><circle cx="7.7" cy="19.2" r="4.7" fill="#66f8c4"/><circle cx="72.7" cy="14.3" r="4.7" fill="#66f8c4"/><circle cx="113.1" cy="-2.1" r="4.7" fill="#74fdb9"/><circle cx="113.1" cy="106.9" r="4.7" fill="#74fdb9"/><circle cx="87.8" cy="63.7" r="4.7" fill="#66f8c4"/><circle cx="4.5" cy="2.0" r="4.7" fill="#84f9a8"/><circle cx="4.5" cy="111.0" r="4.7" fill="#84f9a8"/><circle cx="131.5" cy="2.0" r="4.7" fill="#84f9a8"/><circle cx="131.5" cy="111.0" r="4.7" fill="#84f9a8"/><circle cx="89.0" cy="-4.1" r="4.7" fill="#66f8c4"/><circle cx="89.0" cy="104.9" r="4.7" fill="#66f8c4"/><circle cx="80.8" cy="52.6" r="4.7" fill="#74fdb9"/><circle cx="40.5" cy="-0.1" r="4.7" fill="#66f8c4"/><circle cx="40.5" cy="108.9" r="4.7" fill="#66f8c4"/><circle cx="69.4" cy="80.3" r="4.7" fill="#84f9a8"/><circle cx="93.6" cy="76.7" r="4.7" fill="#74fdb9"/><circle cx="116.2" cy="38.3" r="4.7" fill="#74fdb9"/><circle cx="114.4" cy="95.0" r="4.7" fill="#5af2cd"/><circle cx="100.4" cy="94.1" r="4.7" fill="#5af2cd"/><circle cx="79.4" cy="41.7" r="4.7" fill="#5af2cd"/><circle cx="77.3" cy="8.7" r="4.7" fill="#74fdb9"/><circle cx="-0.8" cy="95.9" r="4.7" fill="#74fdb9"/><circle cx="126.2" cy="95.9" r="4.7" fill="#74fdb9"/><circle cx="49.3" cy="80.1" r="4.7" fill="#5af2cd"/><circle cx="55.9" cy="91.4" r="4.7" fill="#66f8c4"/><circle cx="95.3" cy="3.2" r="4.7" fill="#5af2cd"/><circle cx="95.3" cy="112.2" r="4.7" fill="#5af2cd"/><circle cx="61.1" cy="25.1" r="4.7" fill="#74fdb9"/><circle cx="63.2" cy="67.0" r="4.7" fill="#84f9a8"/><circle cx="32.5" cy="1.2" r="4.7" fill="#66f8c4"/><circle cx="32.5" cy="110.2" r="4.7" fill="#66f8c4"/><circle cx="86.1" cy="22.1" r="4.7" fill="#66f8c4"/><circle cx="115.0" cy="71.9" r="4.7" fill="#5af2cd"/><circle cx="113.2" cy="35.6" r="4.7" fill="#74fdb9"/><circle cx="25.2" cy="47.0" r="4.7" fill="#4ae8d6"/><circle cx="116.1" cy="95.9" r="4.7" fill="#5af2cd"/><circle cx="74.1" cy="34.5" r="4.7" fill="#66f8c4"/><circle cx="63.1" cy="91.2" r="4.7" fill="#4ae8d6"/><circle cx="90.3" cy="103.6" r="4.7" fill="#66f8c4"/><circle cx="21.5" cy="49.1" r="4.7" fill="#66f8c4"/><circle cx="27.2" cy="45.1" r="4.7" fill="#74fdb9"/><circle cx="62.7" cy="34.4" r="4.7" fill="#4ae8d6"/><circle cx="-2.3" cy="49.3" r="4.7" fill="#66f8c4"/><circle cx="124.7" cy="49.3" r="4.7" fill="#66f8c4"/><circle cx="4.0" cy="95.1" r="4.7" fill="#66f8c4"/><circle cx="131.0" cy="95.1" r="4.7" fill="#66f8c4"/><circle cx="90.0" cy="62.2" r="4.7" fill="#66f8c4"/><circle cx="100.5" cy="2.1" r="4.7" fill="#66f8c4"/><circle cx="100.5" cy="111.1" r="4.7" fill="#66f8c4"/><circle cx="57.8" cy="2.7" r="4.7" fill="#4ae8d6"/><circle cx="57.8" cy="111.7" r="4.7" fill="#4ae8d6"/><circle cx="30.2" cy="15.4" r="4.7" fill="#66f8c4"/><circle cx="79.9" cy="48.7" r="4.7" fill="#74fdb9"/><circle cx="83.2" cy="88.0" r="4.7" fill="#6ef6be"/><circle cx="86.9" cy="21.7" r="4.7" fill="#5af2cd"/><circle cx="22.7" cy="1.2" r="4.7" fill="#5af2cd"/><circle cx="22.7" cy="110.2" r="4.7" fill="#5af2cd"/><circle cx="90.7" cy="19.5" r="4.7" fill="#66f8c4"/><circle cx="43.9" cy="76.0" r="4.7" fill="#5af2cd"/><circle cx="78.0" cy="82.4" r="4.7" fill="#5af2cd"/><circle cx="100.6" cy="98.8" r="4.7" fill="#66f8c4"/><circle cx="118.4" cy="78.7" r="4.7" fill="#66f8c4"/><circle cx="57.6" cy="68.2" r="4.7" fill="#84f9a8"/><circle cx="47.9" cy="62.0" r="4.7" fill="#4ae8d6"/><circle cx="101.2" cy="102.9" r="4.7" fill="#5af2cd"/><circle cx="82.7" cy="22.3" r="4.7" fill="#74fdb9"/><circle cx="103.9" cy="69.9" r="4.7" fill="#74fdb9"/><circle cx="27.1" cy="98.1" r="4.7" fill="#6ef6be"/><circle cx="-2.9" cy="58.5" r="4.7" fill="#74fdb9"/><circle cx="124.1" cy="58.5" r="4.7" fill="#74fdb9"/><circle cx="40.7" cy="99.2" r="4.7" fill="#4ae8d6"/><circle cx="44.3" cy="9.0" r="4.7" fill="#5af2cd"/><circle cx="69.9" cy="83.7" r="4.7" fill="#5af2cd"/><circle cx="3.6" cy="88.2" r="4.7" fill="#66f8c4"/><circle cx="130.6" cy="88.2" r="4.7" fill="#66f8c4"/><circle cx="101.6" cy="18.8" r="4.7" fill="#66f8c4"/><circle cx="100.1" cy="15.3" r="4.7" fill="#66f8c4"/><circle cx="65.6" cy="78.9" r="4.7" fill="#4ae8d6"/><circle cx="87.6" cy="103.1" r="4.7" fill="#5af2cd"/><circle cx="120.5" cy="9.4" r="4.7" fill="#66f8c4"/><circle cx="66.9" cy="31.6" r="4.7" fill="#74fdb9"/><circle cx="81.1" cy="57.0" r="4.7" fill="#4ae8d6"/><circle cx="71.1" cy="34.0" r="4.7" fill="#5af2cd"/><circle cx="107.3" cy="98.2" r="4.7" fill="#66f8c4"/><circle cx="108.0" cy="-3.4" r="4.7" fill="#5af2cd"/><circle cx="108.0" cy="105.6" r="4.7" fill="#5af2cd"/><circle cx="72.8" cy="21.9" r="4.7" fill="#5af2cd"/><circle cx="63.9" cy="66.0" r="4.7" fill="#66f8c4"/><circle cx="-3.9" cy="56.2" r="4.7" fill="#5af2cd"/><circle cx="123.1" cy="56.2" r="4.7" fill="#5af2cd"/><circle cx="101.7" cy="61.4" r="4.7" fill="#5af2cd"/><circle cx="87.8" cy="7.2" r="4.7" fill="#5af2cd"/><circle cx="52.5" cy="-4.7" r="4.7" fill="#84f9a8"/><circle cx="52.5" cy="104.3" r="4.7" fill="#84f9a8"/><circle cx="34.2" cy="51.6" r="4.7" fill="#66f8c4"/><circle cx="55.1" cy="88.9" r="4.7" fill="#84f9a8"/><circle cx="60.5" cy="34.6" r="4.7" fill="#66f8c4"/><circle cx="78.5" cy="100.9" r="4.7" fill="#66f8c4"/><circle cx="99.0" cy="2.5" r="4.7" fill="#66f8c4"/><circle cx="99.0" cy="111.5" r="4.7" fill="#66f8c4"/><circle cx="28.9" cy="74.9" r="4.7" fill="#66f8c4"/><circle cx="45.1" cy="67.6" r="4.7" fill="#66f8c4"/><circle cx="92.8" cy="13.4" r="4.7" fill="#5af2cd"/><circle cx="31.8" cy="21.6" r="4.7" fill="#5af2cd"/><circle cx="55.5" cy="41.0" r="4.7" fill="#5af2cd"/><circle cx="67.2" cy="17.4" r="4.7" fill="#66f8c4"/><circle cx="80.2" cy="69.6" r="4.7" fill="#5af2cd"/><circle cx="108.1" cy="66.7" r="4.7" fill="#4ae8d6"/><circle cx="29.5" cy="80.7" r="4.7" fill="#4ae8d6"/><circle cx="114.6" cy="34.4" r="4.7" fill="#66f8c4"/><circle cx="117.2" cy="23.8" r="4.7" fill="#6ef6be"/><circle cx="112.7" cy="14.6" r="4.7" fill="#66f8c4"/><circle cx="92.3" cy="28.3" r="4.7" fill="#66f8c4"/><circle cx="105.7" cy="46.0" r="4.7" fill="#74fdb9"/><circle cx="16.0" cy="43.9" r="4.7" fill="#74fdb9"/><circle cx="2.3" cy="21.9" r="4.7" fill="#74fdb9"/><circle cx="129.3" cy="21.9" r="4.7" fill="#74fdb9"/><circle cx="115.7" cy="-3.4" r="4.7" fill="#66f8c4"/><circle cx="115.7" cy="105.6" r="4.7" fill="#66f8c4"/><circle cx="64.2" cy="82.6" r="4.7" fill="#5af2cd"/><circle cx="87.1" cy="20.6" r="4.7" fill="#66f8c4"/><circle cx="13.5" cy="4.1" r="4.7" fill="#5af2cd"/><circle cx="13.5" cy="113.1" r="4.7" fill="#5af2cd"/><circle cx="65.4" cy="62.0" r="4.7" fill="#66f8c4"/><circle cx="23.4" cy="22.2" r="4.7" fill="#4ae8d6"/><circle cx="-1.2" cy="101.0" r="4.7" fill="#66f8c4"/><circle cx="125.8" cy="101.0" r="4.7" fill="#66f8c4"/><circle cx="7.9" cy="103.7" r="4.7" fill="#5af2cd"/><circle cx="97.1" cy="35.6" r="4.7" fill="#5af2cd"/><circle cx="65.4" cy="46.9" r="4.7" fill="#5af2cd"/><circle cx="1.7" cy="76.4" r="4.7" fill="#4ae8d6"/><circle cx="128.7" cy="76.4" r="4.7" fill="#4ae8d6"/><circle cx="23.0" cy="49.5" r="4.7" fill="#74fdb9"/><circle cx="51.5" cy="21.3" r="4.7" fill="#66f8c4"/><circle cx="65.1" cy="1.7" r="4.7" fill="#4ae8d6"/><circle cx="65.1" cy="110.7" r="4.7" fill="#4ae8d6"/><circle cx="101.8" cy="76.8" r="4.7" fill="#4ae8d6"/><circle cx="79.9" cy="44.1" r="4.7" fill="#5af2cd"/><circle cx="64.0" cy="-1.9" r="4.7" fill="#4ae8d6"/><circle cx="64.0" cy="107.1" r="4.7" fill="#4ae8d6"/><circle cx="32.8" cy="99.3" r="4.7" fill="#74fdb9"/><circle cx="98.8" cy="88.8" r="4.7" fill="#5af2cd"/><circle cx="113.9" cy="95.9" r="4.7" fill="#74fdb9"/><circle cx="97.4" cy="83.4" r="4.7" fill="#5af2cd"/><circle cx="91.8" cy="7.7" r="4.7" fill="#66f8c4"/><circle cx="59.5" cy="1.2" r="4.7" fill="#66f8c4"/><circle cx="59.5" cy="110.2" r="4.7" fill="#66f8c4"/><circle cx="81.1" cy="68.0" r="4.7" fill="#66f8c4"/><circle cx="120.0" cy="72.6" r="4.7" fill="#66f8c4"/><circle cx="83.8" cy="62.1" r="4.7" fill="#5af2cd"/><circle cx="49.5" cy="-0.0" r="4.7" fill="#74fdb9"/><circle cx="49.5" cy="109.0" r="4.7" fill="#74fdb9"/><circle cx="89.1" cy="83.0" r="4.7" fill="#6ef6be"/><circle cx="2.9" cy="67.1" r="4.7" fill="#74fdb9"/><circle cx="129.9" cy="67.1" r="4.7" fill="#74fdb9"/><circle cx="32.6" cy="43.8" r="4.7" fill="#66f8c4"/><circle cx="24.8" cy="40.9" r="4.7" fill="#66f8c4"/><circle cx="31.9" cy="98.7" r="4.7" fill="#5af2cd"/><circle cx="64.5" cy="-3.6" r="4.7" fill="#5af2cd"/><circle cx="64.5" cy="105.4" r="4.7" fill="#5af2cd"/><circle cx="-0.6" cy="69.5" r="4.7" fill="#4ae8d6"/><circle cx="126.4" cy="69.5" r="4.7" fill="#4ae8d6"/><circle cx="9.7" cy="65.1" r="4.7" fill="#74fdb9"/><circle cx="5.7" cy="101.4" r="4.7" fill="#66f8c4"/><circle cx="59.9" cy="18.4" r="4.7" fill="#5af2cd"/><circle cx="77.6" cy="6.4" r="4.7" fill="#84f9a8"/><circle cx="53.4" cy="57.4" r="4.7" fill="#5af2cd"/><circle cx="46.4" cy="31.1" r="4.7" fill="#74fdb9"/><circle cx="71.2" cy="30.9" r="4.7" fill="#74fdb9"/><circle cx="37.6" cy="1.5" r="4.7" fill="#66f8c4"/><circle cx="37.6" cy="110.5" r="4.7" fill="#66f8c4"/><circle cx="5.4" cy="17.1" r="4.7" fill="#74fdb9"/><circle cx="49.5" cy="97.8" r="4.7" fill="#74fdb9"/><circle cx="6.4" cy="-1.2" r="4.7" fill="#84f9a8"/><circle cx="6.4" cy="107.8" r="4.7" fill="#84f9a8"/><circle cx="9.3" cy="98.7" r="4.7" fill="#5af2cd"/><circle cx="60.7" cy="-2.9" r="4.7" fill="#66f8c4"/><circle cx="60.7" cy="106.1" r="4.7" fill="#66f8c4"/><circle cx="66.5" cy="102.2" r="4.7" fill="#74fdb9"/><circle cx="59.5" cy="-2.3" r="4.7" fill="#4ae8d6"/><circle cx="59.5" cy="106.7" r="4.7" fill="#4ae8d6"/><circle cx="76.7" cy="12.5" r="4.7" fill="#74fdb9"/><circle cx="57.9" cy="22.2" r="4.7" fill="#66f8c4"/><circle cx="67.1" cy="13.6" r="4.7" fill="#5af2cd"/><circle cx="84.8" cy="49.7" r="4.7" fill="#66f8c4"/><circle cx="73.9" cy="45.7" r="4.7" fill="#74fdb9"/><circle cx="67.4" cy="-0.3" r="4.7" fill="#6ef6be"/><circle cx="67.4" cy="108.7" r="4.7" fill="#6ef6be"/><circle cx="93.3" cy="26.0" r="4.7" fill="#66f8c4"/><circle cx="113.4" cy="85.5" r="4.7" fill="#74fdb9"/><circle cx="45.6" cy="29.6" r="4.7" fill="#74fdb9"/><circle cx="71.7" cy="64.5" r="4.7" fill="#74fdb9"/><circle cx="95.7" cy="20.7" r="4.7" fill="#66f8c4"/><circle cx="-2.6" cy="99.8" r="4.7" fill="#4ae8d6"/><circle cx="124.4" cy="99.8" r="4.7" fill="#4ae8d6"/><circle cx="5.0" cy="6.6" r="4.7" fill="#66f8c4"/><circle cx="54.0" cy="67.9" r="4.7" fill="#66f8c4"/><circle cx="68.8" cy="7.9" r="4.7" fill="#66f8c4"/><circle cx="85.9" cy="60.0" r="4.7" fill="#74fdb9"/><circle cx="47.4" cy="52.2" r="4.7" fill="#66f8c4"/><circle cx="43.6" cy="81.2" r="4.7" fill="#4ae8d6"/><circle cx="9.4" cy="13.1" r="4.7" fill="#4ae8d6"/><circle cx="79.2" cy="83.8" r="4.7" fill="#66f8c4"/><circle cx="53.9" cy="28.1" r="4.7" fill="#4ae8d6"/><circle cx="46.9" cy="71.2" r="4.7" fill="#6ef6be"/><circle cx="41.3" cy="59.8" r="4.7" fill="#74fdb9"/><circle cx="116.9" cy="46.6" r="4.7" fill="#66f8c4"/><circle cx="12.3" cy="95.4" r="4.7" fill="#66f8c4"/><circle cx="10.5" cy="61.5" r="4.7" fill="#5af2cd"/><circle cx="87.0" cy="32.6" r="4.7" fill="#74fdb9"/><circle cx="9.7" cy="23.2" r="4.7" fill="#74fdb9"/><circle cx="10.4" cy="33.1" r="4.7" fill="#74fdb9"/><circle cx="88.1" cy="30.8" r="4.7" fill="#66f8c4"/><circle cx="45.4" cy="79.1" r="4.7" fill="#66f8c4"/><circle cx="14.9" cy="77.3" r="4.7" fill="#5af2cd"/><circle cx="116.7" cy="102.5" r="4.7" fill="#84f9a8"/><circle cx="55.6" cy="87.5" r="4.7" fill="#66f8c4"/><circle cx="40.3" cy="43.6" r="4.7" fill="#84f9a8"/><circle cx="113.6" cy="27.1" r="4.7" fill="#66f8c4"/><circle cx="46.4" cy="39.6" r="4.7" fill="#5af2cd"/><circle cx="49.2" cy="21.3" r="4.7" fill="#5af2cd"/><circle cx="101.2" cy="58.9" r="4.7" fill="#4ae8d6"/><circle cx="71.5" cy="19.2" r="4.7" fill="#74fdb9"/><circle cx="111.9" cy="30.7" r="4.7" fill="#66f8c4"/><circle cx="65.5" cy="59.3" r="4.7" fill="#5af2cd"/><circle cx="-4.3" cy="71.0" r="4.7" fill="#4ae8d6"/><circle cx="122.7" cy="71.0" r="4.7" fill="#4ae8d6"/><circle cx="8.1" cy="59.6" r="4.7" fill="#74fdb9"/><circle cx="10.7" cy="8.9" r="4.7" fill="#74fdb9"/><circle cx="114.2" cy="9.2" r="4.7" fill="#74fdb9"/><circle cx="18.3" cy="81.3" r="4.7" fill="#74fdb9"/><circle cx="31.2" cy="24.0" r="4.7" fill="#74fdb9"/><circle cx="66.2" cy="83.4" r="4.7" fill="#5af2cd"/><circle cx="42.9" cy="-3.5" r="4.7" fill="#74fdb9"/><circle cx="42.9" cy="105.5" r="4.7" fill="#74fdb9"/><circle cx="62.7" cy="58.6" r="4.7" fill="#74fdb9"/><circle cx="89.9" cy="99.7" r="4.7" fill="#5af2cd"/><circle cx="104.9" cy="72.7" r="4.7" fill="#4ae8d6"/><circle cx="102.4" cy="90.9" r="4.7" fill="#4ae8d6"/><circle cx="121.6" cy="69.8" r="4.7" fill="#5af2cd"/><circle cx="90.2" cy="87.4" r="4.7" fill="#5af2cd"/><circle cx="53.4" cy="15.9" r="4.7" fill="#74fdb9"/><circle cx="-1.1" cy="40.9" r="4.7" fill="#66f8c4"/><circle cx="125.9" cy="40.9" r="4.7" fill="#66f8c4"/><circle cx="26.0" cy="46.3" r="4.7" fill="#66f8c4"/><circle cx="-3.8" cy="6.5" r="4.7" fill="#66f8c4"/><circle cx="123.2" cy="6.5" r="4.7" fill="#66f8c4"/><circle cx="14.6" cy="70.6" r="4.7" fill="#74fdb9"/><circle cx="22.8" cy="6.8" r="4.7" fill="#5af2cd"/><circle cx="74.2" cy="99.1" r="4.7" fill="#66f8c4"/><circle cx="13.8" cy="20.1" r="4.7" fill="#66f8c4"/><circle cx="29.9" cy="78.2" r="4.7" fill="#5af2cd"/><circle cx="28.4" cy="20.2" r="4.7" fill="#66f8c4"/><circle cx="21.9" cy="82.6" r="4.7" fill="#66f8c4"/><circle cx="69.6" cy="89.1" r="4.7" fill="#5af2cd"/><circle cx="33.1" cy="96.7" r="4.7" fill="#84f9a8"/><circle cx="43.4" cy="59.7" r="4.7" fill="#6ef6be"/><circle cx="61.3" cy="24.1" r="4.7" fill="#66f8c4"/><circle cx="120.3" cy="87.4" r="4.7" fill="#5af2cd"/><circle cx="67.0" cy="56.2" r="4.7" fill="#66f8c4"/><circle cx="-1.2" cy="71.7" r="4.7" fill="#66f8c4"/><circle cx="125.8" cy="71.7" r="4.7" fill="#66f8c4"/><circle cx="1.4" cy="51.5" r="4.7" fill="#66f8c4"/><circle cx="128.4" cy="51.5" r="4.7" fill="#66f8c4"/><circle cx="101.2" cy="77.7" r="4.7" fill="#5af2cd"/><circle cx="20.0" cy="17.1" r="4.7" fill="#66f8c4"/><circle cx="32.9" cy="94.7" r="4.7" fill="#5af2cd"/><circle cx="80.9" cy="-0.8" r="4.7" fill="#66f8c4"/><circle cx="80.9" cy="108.2" r="4.7" fill="#66f8c4"/><circle cx="67.9" cy="16.4" r="4.7" fill="#74fdb9"/><circle cx="0.2" cy="89.5" r="4.7" fill="#4ae8d6"/><circle cx="127.2" cy="89.5" r="4.7" fill="#4ae8d6"/><circle cx="104.4" cy="9.0" r="4.7" fill="#66f8c4"/><circle cx="91.0" cy="10.6" r="4.7" fill="#5af2cd"/><circle cx="59.5" cy="-4.9" r="4.7" fill="#5af2cd"/><circle cx="59.5" cy="104.1" r="4.7" fill="#5af2cd"/><circle cx="108.9" cy="33.1" r="4.7" fill="#74fdb9"/><circle cx="53.0" cy="99.9" r="4.7" fill="#66f8c4"/><circle cx="104.9" cy="22.7" r="4.7" fill="#5af2cd"/><circle cx="66.8" cy="17.2" r="4.7" fill="#4ae8d6"/><circle cx="39.5" cy="33.9" r="4.7" fill="#66f8c4"/><circle cx="38.8" cy="50.9" r="4.7" fill="#74fdb9"/><circle cx="45.7" cy="74.9" r="4.7" fill="#66f8c4"/><circle cx="50.1" cy="50.3" r="4.7" fill="#6ef6be"/><circle cx="105.4" cy="71.3" r="4.7" fill="#66f8c4"/><circle cx="47.9" cy="77.4" r="4.7" fill="#66f8c4"/><circle cx="71.6" cy="49.9" r="4.7" fill="#66f8c4"/><circle cx="-1.1" cy="87.1" r="4.7" fill="#66f8c4"/><circle cx="125.9" cy="87.1" r="4.7" fill="#66f8c4"/><circle cx="78.2" cy="31.7" r="4.7" fill="#66f8c4"/><circle cx="68.6" cy="32.5" r="4.7" fill="#66f8c4"/><circle cx="49.8" cy="72.7" r="4.7" fill="#66f8c4"/><circle cx="25.4" cy="79.7" r="4.7" fill="#66f8c4"/><circle cx="120.0" cy="61.3" r="4.7" fill="#74fdb9"/><circle cx="42.1" cy="90.1" r="4.7" fill="#66f8c4"/><circle cx="17.9" cy="10.3" r="4.7" fill="#74fdb9"/><circle cx="90.0" cy="19.6" r="4.7" fill="#5af2cd"/><circle cx="106.3" cy="64.6" r="4.7" fill="#66f8c4"/><circle cx="28.8" cy="17.1" r="4.7" fill="#66f8c4"/><circle cx="51.7" cy="7.9" r="4.7" fill="#84f9a8"/><circle cx="54.2" cy="55.8" r="4.7" fill="#74fdb9"/><circle cx="97.4" cy="89.5" r="4.7" fill="#5af2cd"/><circle cx="42.1" cy="44.9" r="4.7" fill="#66f8c4"/><circle cx="50.9" cy="76.3" r="4.7" fill="#6ef6be"/><circle cx="100.3" cy="72.0" r="4.7" fill="#5af2cd"/><circle cx="2.4" cy="36.1" r="4.7" fill="#66f8c4"/><circle cx="129.4" cy="36.1" r="4.7" fill="#66f8c4"/><circle cx="82.6" cy="11.6" r="4.7" fill="#66f8c4"/><circle cx="64.7" cy="86.0" r="4.7" fill="#4ae8d6"/><circle cx="77.7" cy="17.3" r="4.7" fill="#74fdb9"/><circle cx="114.7" cy="59.8" r="4.7" fill="#66f8c4"/><circle cx="63.6" cy="15.5" r="4.7" fill="#74fdb9"/><circle cx="-1.7" cy="56.2" r="4.7" fill="#74fdb9"/><circle cx="125.3" cy="56.2" r="4.7" fill="#74fdb9"/><circle cx="106.1" cy="21.5" r="4.7" fill="#84f9a8"/><circle cx="79.6" cy="21.6" r="4.7" fill="#66f8c4"/><circle cx="31.1" cy="62.8" r="4.7" fill="#74fdb9"/><circle cx="41.8" cy="101.3" r="4.7" fill="#66f8c4"/><circle cx="58.8" cy="13.5" r="4.7" fill="#6ef6be"/><circle cx="17.2" cy="98.5" r="4.7" fill="#5af2cd"/><circle cx="71.2" cy="61.1" r="4.7" fill="#66f8c4"/><circle cx="115.5" cy="-0.9" r="4.7" fill="#4ae8d6"/><circle cx="115.5" cy="108.1" r="4.7" fill="#4ae8d6"/><circle cx="76.4" cy="13.4" r="4.7" fill="#4ae8d6"/><circle cx="36.6" cy="97.8" r="4.7" fill="#66f8c4"/><circle cx="72.8" cy="90.6" r="4.7" fill="#66f8c4"/><circle cx="69.6" cy="8.3" r="4.7" fill="#66f8c4"/><circle cx="22.9" cy="-1.4" r="4.7" fill="#84f9a8"/><circle cx="22.9" cy="107.6" r="4.7" fill="#84f9a8"/><circle cx="83.6" cy="33.5" r="4.7" fill="#74fdb9"/><circle cx="93.7" cy="41.6" r="4.7" fill="#5af2cd"/><circle cx="102.1" cy="1.8" r="4.7" fill="#66f8c4"/><circle cx="102.1" cy="110.8" r="4.7" fill="#66f8c4"/><circle cx="59.4" cy="15.6" r="4.7" fill="#5af2cd"/><circle cx="72.3" cy="18.9" r="4.7" fill="#5af2cd"/><circle cx="33.5" cy="61.9" r="4.7" fill="#66f8c4"/><circle cx="81.5" cy="4.1" r="4.7" fill="#74fdb9"/><circle cx="81.5" cy="113.1" r="4.7" fill="#74fdb9"/><circle cx="18.4" cy="-4.4" r="4.7" fill="#5af2cd"/><circle cx="18.4" cy="104.6" r="4.7" fill="#5af2cd"/><circle cx="59.7" cy="44.8" r="4.7" fill="#74fdb9"/><circle cx="87.5" cy="82.6" r="4.7" fill="#74fdb9"/><circle cx="61.7" cy="-0.6" r="4.7" fill="#4ae8d6"/><circle cx="61.7" cy="108.4" r="4.7" fill="#4ae8d6"/><circle cx="108.6" cy="44.6" r="4.7" fill="#5af2cd"/><circle cx="71.9" cy="98.7" r="4.7" fill="#5af2cd"/><circle cx="66.7" cy="47.1" r="4.7" fill="#84f9a8"/><circle cx="40.7" cy="6.0" r="4.7" fill="#74fdb9"/><circle cx="114.3" cy="79.8" r="4.7" fill="#5af2cd"/><circle cx="95.5" cy="33.2" r="4.7" fill="#5af2cd"/><circle cx="8.9" cy="13.6" r="4.7" fill="#5af2cd"/><circle cx="63.8" cy="43.2" r="4.7" fill="#66f8c4"/><circle cx="88.3" cy="57.4" r="4.7" fill="#66f8c4"/><circle cx="38.9" cy="43.1" r="4.7" fill="#66f8c4"/><circle cx="8.7" cy="99.3" r="4.7" fill="#6ef6be"/><circle cx="84.5" cy="94.4" r="4.7" fill="#5af2cd"/><circle cx="102.3" cy="24.2" r="4.7" fill="#74fdb9"/><circle cx="72.0" cy="98.5" r="4.7" fill="#66f8c4"/><circle cx="100.6" cy="13.5" r="4.7" fill="#5af2cd"/><circle cx="120.8" cy="0.1" r="4.7" fill="#66f8c4"/><circle cx="120.8" cy="109.1" r="4.7" fill="#66f8c4"/><circle cx="38.0" cy="35.4" r="4.7" fill="#66f8c4"/><circle cx="113.7" cy="88.9" r="4.7" fill="#5af2cd"/><circle cx="45.3" cy="63.8" r="4.7" fill="#66f8c4"/><circle cx="4.0" cy="97.9" r="4.7" fill="#66f8c4"/><circle cx="131.0" cy="97.9" r="4.7" fill="#66f8c4"/><circle cx="63.3" cy="101.8" r="4.7" fill="#6ef6be"/><circle cx="60.0" cy="22.5" r="4.7" fill="#66f8c4"/><circle cx="117.2" cy="97.8" r="4.7" fill="#66f8c4"/><circle cx="106.4" cy="38.6" r="4.7" fill="#5af2cd"/><circle cx="21.8" cy="95.9" r="4.7" fill="#6ef6be"/><circle cx="25.7" cy="68.9" r="4.7" fill="#66f8c4"/><circle cx="111.8" cy="5.5" r="4.7" fill="#66f8c4"/><circle cx="92.2" cy="34.1" r="4.7" fill="#84f9a8"/><circle cx="110.4" cy="77.7" r="4.7" fill="#66f8c4"/><circle cx="88.4" cy="102.2" r="4.7" fill="#5af2cd"/><circle cx="10.0" cy="24.3" r="4.7" fill="#66f8c4"/><circle cx="90.2" cy="21.4" r="4.7" fill="#66f8c4"/><circle cx="29.9" cy="72.4" r="4.7" fill="#74fdb9"/><circle cx="47.3" cy="72.2" r="4.7" fill="#4ae8d6"/><circle cx="74.9" cy="25.0" r="4.7" fill="#66f8c4"/><circle cx="117.7" cy="72.7" r="4.7" fill="#66f8c4"/><circle cx="81.3" cy="9.8" r="4.7" fill="#6ef6be"/><circle cx="55.9" cy="57.6" r="4.7" fill="#5af2cd"/><circle cx="5.8" cy="65.4" r="4.7" fill="#66f8c4"/><circle cx="31.9" cy="87.6" r="4.7" fill="#66f8c4"/><circle cx="36.2" cy="82.4" r="4.7" fill="#66f8c4"/><circle cx="35.4" cy="59.7" r="4.7" fill="#66f8c4"/><circle cx="113.9" cy="-1.3" r="4.7" fill="#66f8c4"/><circle cx="113.9" cy="107.7" r="4.7" fill="#66f8c4"/><circle cx="58.6" cy="81.8" r="4.7" fill="#5af2cd"/><circle cx="118.0" cy="54.5" r="4.7" fill="#66f8c4"/><circle cx="70.6" cy="70.3" r="4.7" fill="#66f8c4"/><circle cx="83.6" cy="85.3" r="4.7" fill="#5af2cd"/><circle cx="64.2" cy="92.1" r="4.7" fill="#74fdb9"/><circle cx="66.1" cy="103.7" r="4.7" fill="#66f8c4"/><circle cx="99.0" cy="18.0" r="4.7" fill="#5af2cd"/><circle cx="29.9" cy="48.0" r="4.7" fill="#74fdb9"/><circle cx="99.9" cy="86.2" r="4.7" fill="#66f8c4"/><circle cx="62.1" cy="24.1" r="4.7" fill="#5af2cd"/><circle cx="63.4" cy="3.9" r="4.7" fill="#5af2cd"/><circle cx="63.4" cy="112.9" r="4.7" fill="#5af2cd"/><circle cx="90.8" cy="62.4" r="4.7" fill="#4ae8d6"/><circle cx="22.9" cy="16.5" r="4.7" fill="#66f8c4"/><circle cx="63.0" cy="47.4" r="4.7" fill="#5af2cd"/><circle cx="33.4" cy="87.0" r="4.7" fill="#66f8c4"/><circle cx="115.2" cy="62.0" r="4.7" fill="#5af2cd"/><circle cx="100.5" cy="25.9" r="4.7" fill="#66f8c4"/><circle cx="39.5" cy="4.6" r="4.7" fill="#66f8c4"/><circle cx="39.5" cy="113.6" r="4.7" fill="#66f8c4"/><circle cx="78.9" cy="57.3" r="4.7" fill="#66f8c4"/><circle cx="74.8" cy="9.6" r="4.7" fill="#4ae8d6"/><circle cx="21.8" cy="27.8" r="4.7" fill="#66f8c4"/><circle cx="87.7" cy="90.6" r="4.7" fill="#74fdb9"/></pattern></defs><defs><clipPath id="blobclip"><path d="M104.3 275.3 L118.0 265.3 L136.0 256.3 L154.0 250.9 L172.0 248.7 L190.0 250.1 L200.8 256.6 L211.6 258.4 L225.9 244.8 L233.1 235.8 L279.9 235.0 L281.7 249.4 L287.1 251.9 L306.9 241.5 L333.9 242.2 L362.7 249.4 L371.6 250.9 L389.9 262.7 L384.7 270.6 L397.7 270.6 L410.8 275.8 L423.9 287.6 L429.8 298.0 L427.8 304.6 L414.7 316.3 L406.9 324.2 L405.6 333.3 L397.7 338.6 L384.7 343.2 L371.6 343.8 L363.7 338.6 L353.3 342.5 L341.5 347.7 L330.2 347.3 L315.8 343.7 L305.0 354.5 L301.5 359.9 L315.9 370.7 L337.5 379.7 L362.7 388.7 L377.1 401.3 L378.9 422.9 L373.5 440.9 L366.3 435.4 L351.9 448.0 L330.3 451.6 L328.5 466.0 L330.3 502.0 L337.5 534.4 L348.3 566.7 L359.1 599.1 L351.9 603.4 L315.9 602.7 L297.9 599.1 L287.1 595.5 L281.7 577.5 L276.3 588.3 L258.3 599.1 L208.0 602.0 L154.0 605.6 L104.3 608.1 L101.8 608.1 L101.8 275.3 Z M320.6 269.2 L332.3 267.9 L337.6 275.8 L334.9 287.6 L327.1 290.2 L321.9 282.3 Z M310.1 313.7 L332.3 312.4 L341.5 300.6 L353.3 296.7 L361.1 303.3 L374.2 305.9 L376.8 315.0 L374.2 324.2 L365.0 321.6 L361.1 329.4 L358.5 339.9 L350.6 338.6 L340.2 341.2 L329.7 343.8 L319.2 342.5 L312.7 332.0 L310.1 321.6 Z M387.3 304.6 L395.1 303.3 L403.0 307.2 L402.3 320.3 L393.8 324.2 L389.9 316.3 Z M643.9 225.7 L679.9 221.4 L701.5 217.8 L723.1 218.5 L751.9 219.6 L787.9 221.4 L823.9 221.4 L859.8 223.2 L895.8 225.0 L931.8 226.8 L967.8 235.8 L1003.8 253.7 L1020.0 259.1 L1020.0 259.1 L1038.3 282.5 L1056.3 304.1 L1067.1 329.3 L1081.5 314.9 L1103.1 304.1 L1124.7 311.3 L1139.1 307.7 L1146.3 293.3 L1149.9 275.0 L1167.9 269.6 L1189.8 253.0 L1212.1 248.7 L1221.8 261.3 L1227.6 277.9 L1233.0 266.7 L1238.4 248.7 L1260.7 253.0 L1274.4 263.8 L1288.1 259.9 L1315.8 269.6 L1343.5 280.4 L1345.0 282.0 L1345.0 610.0 L1342.4 610.0 L1275.8 635.1 L1200.0 642.0 L1140.0 642.3 L1104.9 631.5 L1086.9 622.6 L1068.9 610.0 L1052.7 597.4 L1042.0 610.0 L1024.0 626.2 L1006.0 642.3 L988.0 655.0 L970.0 658.5 L952.0 664.0 L930.4 669.3 L916.0 664.0 L898.0 669.3 L880.0 667.5 L859.8 668.2 L823.9 669.3 L787.9 669.3 L751.9 666.8 L715.9 667.5 L679.9 667.5 L643.9 665.0 L629.5 662.1 L611.6 654.5 L593.6 644.1 L575.6 633.0 L559.4 618.6 L546.8 604.5 L536.0 590.1 L528.8 575.7 L519.8 559.5 L514.4 541.6 L507.9 509.2 L504.3 466.0 L503.6 430.0 L503.0 422.9 L509.0 385.0 L517.5 346.8 L524.4 336.3 L525.3 325.8 L529.7 315.4 L536.6 303.2 L545.4 294.4 L548.9 287.5 L555.8 275.2 L566.3 270.0 L575.0 259.0 L593.6 245.2 L618.7 231.0 Z M1274.4 240.5 L1267.5 246.0 L1262.0 250.2 L1259.2 255.7 L1263.3 272.3 L1271.6 266.8 L1277.2 264.0 L1281.3 258.5 L1285.5 248.8 L1288.2 243.3 Z M1142.8 556.4 L1151.4 545.7 L1168.5 537.1 L1179.2 528.5 L1190.0 535.0 L1202.8 528.5 L1209.2 511.4 L1217.8 500.7 L1226.4 513.5 L1239.2 528.5 L1251.0 541.4 L1252.1 553.2 L1232.8 554.2 L1211.4 550.0 L1202.8 562.8 L1190.0 554.2 L1168.5 547.8 L1151.4 556.4 Z" clip-rule="evenodd"/></clipPath></defs><g clip-path="url(#mapclip)"><path d="M104.3 275.3 L118.0 265.3 L136.0 256.3 L154.0 250.9 L172.0 248.7 L190.0 250.1 L200.8 256.6 L211.6 258.4 L225.9 244.8 L233.1 235.8 L279.9 235.0 L281.7 249.4 L287.1 251.9 L306.9 241.5 L333.9 242.2 L362.7 249.4 L371.6 250.9 L389.9 262.7 L384.7 270.6 L397.7 270.6 L410.8 275.8 L423.9 287.6 L429.8 298.0 L427.8 304.6 L414.7 316.3 L406.9 324.2 L405.6 333.3 L397.7 338.6 L384.7 343.2 L371.6 343.8 L363.7 338.6 L353.3 342.5 L341.5 347.7 L330.2 347.3 L315.8 343.7 L305.0 354.5 L301.5 359.9 L315.9 370.7 L337.5 379.7 L362.7 388.7 L377.1 401.3 L378.9 422.9 L373.5 440.9 L366.3 435.4 L351.9 448.0 L330.3 451.6 L328.5 466.0 L330.3 502.0 L337.5 534.4 L348.3 566.7 L359.1 599.1 L351.9 603.4 L315.9 602.7 L297.9 599.1 L287.1 595.5 L281.7 577.5 L276.3 588.3 L258.3 599.1 L208.0 602.0 L154.0 605.6 L104.3 608.1 L101.8 608.1 L101.8 275.3 Z M320.6 269.2 L332.3 267.9 L337.6 275.8 L334.9 287.6 L327.1 290.2 L321.9 282.3 Z M310.1 313.7 L332.3 312.4 L341.5 300.6 L353.3 296.7 L361.1 303.3 L374.2 305.9 L376.8 315.0 L374.2 324.2 L365.0 321.6 L361.1 329.4 L358.5 339.9 L350.6 338.6 L340.2 341.2 L329.7 343.8 L319.2 342.5 L312.7 332.0 L310.1 321.6 Z M387.3 304.6 L395.1 303.3 L403.0 307.2 L402.3 320.3 L393.8 324.2 L389.9 316.3 Z M643.9 225.7 L679.9 221.4 L701.5 217.8 L723.1 218.5 L751.9 219.6 L787.9 221.4 L823.9 221.4 L859.8 223.2 L895.8 225.0 L931.8 226.8 L967.8 235.8 L1003.8 253.7 L1020.0 259.1 L1020.0 259.1 L1038.3 282.5 L1056.3 304.1 L1067.1 329.3 L1081.5 314.9 L1103.1 304.1 L1124.7 311.3 L1139.1 307.7 L1146.3 293.3 L1149.9 275.0 L1167.9 269.6 L1189.8 253.0 L1212.1 248.7 L1221.8 261.3 L1227.6 277.9 L1233.0 266.7 L1238.4 248.7 L1260.7 253.0 L1274.4 263.8 L1288.1 259.9 L1315.8 269.6 L1343.5 280.4 L1345.0 282.0 L1345.0 610.0 L1342.4 610.0 L1275.8 635.1 L1200.0 642.0 L1140.0 642.3 L1104.9 631.5 L1086.9 622.6 L1068.9 610.0 L1052.7 597.4 L1042.0 610.0 L1024.0 626.2 L1006.0 642.3 L988.0 655.0 L970.0 658.5 L952.0 664.0 L930.4 669.3 L916.0 664.0 L898.0 669.3 L880.0 667.5 L859.8 668.2 L823.9 669.3 L787.9 669.3 L751.9 666.8 L715.9 667.5 L679.9 667.5 L643.9 665.0 L629.5 662.1 L611.6 654.5 L593.6 644.1 L575.6 633.0 L559.4 618.6 L546.8 604.5 L536.0 590.1 L528.8 575.7 L519.8 559.5 L514.4 541.6 L507.9 509.2 L504.3 466.0 L503.6 430.0 L503.0 422.9 L509.0 385.0 L517.5 346.8 L524.4 336.3 L525.3 325.8 L529.7 315.4 L536.6 303.2 L545.4 294.4 L548.9 287.5 L555.8 275.2 L566.3 270.0 L575.0 259.0 L593.6 245.2 L618.7 231.0 Z M1274.4 240.5 L1267.5 246.0 L1262.0 250.2 L1259.2 255.7 L1263.3 272.3 L1271.6 266.8 L1277.2 264.0 L1281.3 258.5 L1285.5 248.8 L1288.2 243.3 Z M1142.8 556.4 L1151.4 545.7 L1168.5 537.1 L1179.2 528.5 L1190.0 535.0 L1202.8 528.5 L1209.2 511.4 L1217.8 500.7 L1226.4 513.5 L1239.2 528.5 L1251.0 541.4 L1252.1 553.2 L1232.8 554.2 L1211.4 550.0 L1202.8 562.8 L1190.0 554.2 L1168.5 547.8 L1151.4 556.4 Z" fill="url(#dp)" fill-rule="evenodd"/><defs><clipPath id="himclip"><path d="M0 0 L440 0 L440 917 L0 917 Z M1060 200 L1050 330 L1045 420 L1052 520 L1060 597 L1090 700 L1447 700 L1447 200 Z"/></clipPath></defs><g clip-path="url(#himclip)"><path d="M104.3 275.3 L118.0 265.3 L136.0 256.3 L154.0 250.9 L172.0 248.7 L190.0 250.1 L200.8 256.6 L211.6 258.4 L225.9 244.8 L233.1 235.8 L279.9 235.0 L281.7 249.4 L287.1 251.9 L306.9 241.5 L333.9 242.2 L362.7 249.4 L371.6 250.9 L389.9 262.7 L384.7 270.6 L397.7 270.6 L410.8 275.8 L423.9 287.6 L429.8 298.0 L427.8 304.6 L414.7 316.3 L406.9 324.2 L405.6 333.3 L397.7 338.6 L384.7 343.2 L371.6 343.8 L363.7 338.6 L353.3 342.5 L341.5 347.7 L330.2 347.3 L315.8 343.7 L305.0 354.5 L301.5 359.9 L315.9 370.7 L337.5 379.7 L362.7 388.7 L377.1 401.3 L378.9 422.9 L373.5 440.9 L366.3 435.4 L351.9 448.0 L330.3 451.6 L328.5 466.0 L330.3 502.0 L337.5 534.4 L348.3 566.7 L359.1 599.1 L351.9 603.4 L315.9 602.7 L297.9 599.1 L287.1 595.5 L281.7 577.5 L276.3 588.3 L258.3 599.1 L208.0 602.0 L154.0 605.6 L104.3 608.1 L101.8 608.1 L101.8 275.3 Z M320.6 269.2 L332.3 267.9 L337.6 275.8 L334.9 287.6 L327.1 290.2 L321.9 282.3 Z M310.1 313.7 L332.3 312.4 L341.5 300.6 L353.3 296.7 L361.1 303.3 L374.2 305.9 L376.8 315.0 L374.2 324.2 L365.0 321.6 L361.1 329.4 L358.5 339.9 L350.6 338.6 L340.2 341.2 L329.7 343.8 L319.2 342.5 L312.7 332.0 L310.1 321.6 Z M387.3 304.6 L395.1 303.3 L403.0 307.2 L402.3 320.3 L393.8 324.2 L389.9 316.3 Z M643.9 225.7 L679.9 221.4 L701.5 217.8 L723.1 218.5 L751.9 219.6 L787.9 221.4 L823.9 221.4 L859.8 223.2 L895.8 225.0 L931.8 226.8 L967.8 235.8 L1003.8 253.7 L1020.0 259.1 L1020.0 259.1 L1038.3 282.5 L1056.3 304.1 L1067.1 329.3 L1081.5 314.9 L1103.1 304.1 L1124.7 311.3 L1139.1 307.7 L1146.3 293.3 L1149.9 275.0 L1167.9 269.6 L1189.8 253.0 L1212.1 248.7 L1221.8 261.3 L1227.6 277.9 L1233.0 266.7 L1238.4 248.7 L1260.7 253.0 L1274.4 263.8 L1288.1 259.9 L1315.8 269.6 L1343.5 280.4 L1345.0 282.0 L1345.0 610.0 L1342.4 610.0 L1275.8 635.1 L1200.0 642.0 L1140.0 642.3 L1104.9 631.5 L1086.9 622.6 L1068.9 610.0 L1052.7 597.4 L1042.0 610.0 L1024.0 626.2 L1006.0 642.3 L988.0 655.0 L970.0 658.5 L952.0 664.0 L930.4 669.3 L916.0 664.0 L898.0 669.3 L880.0 667.5 L859.8 668.2 L823.9 669.3 L787.9 669.3 L751.9 666.8 L715.9 667.5 L679.9 667.5 L643.9 665.0 L629.5 662.1 L611.6 654.5 L593.6 644.1 L575.6 633.0 L559.4 618.6 L546.8 604.5 L536.0 590.1 L528.8 575.7 L519.8 559.5 L514.4 541.6 L507.9 509.2 L504.3 466.0 L503.6 430.0 L503.0 422.9 L509.0 385.0 L517.5 346.8 L524.4 336.3 L525.3 325.8 L529.7 315.4 L536.6 303.2 L545.4 294.4 L548.9 287.5 L555.8 275.2 L566.3 270.0 L575.0 259.0 L593.6 245.2 L618.7 231.0 Z M1274.4 240.5 L1267.5 246.0 L1262.0 250.2 L1259.2 255.7 L1263.3 272.3 L1271.6 266.8 L1277.2 264.0 L1281.3 258.5 L1285.5 248.8 L1288.2 243.3 Z M1142.8 556.4 L1151.4 545.7 L1168.5 537.1 L1179.2 528.5 L1190.0 535.0 L1202.8 528.5 L1209.2 511.4 L1217.8 500.7 L1226.4 513.5 L1239.2 528.5 L1251.0 541.4 L1252.1 553.2 L1232.8 554.2 L1211.4 550.0 L1202.8 562.8 L1190.0 554.2 L1168.5 547.8 L1151.4 556.4 Z" fill="url(#dpA)" fill-rule="evenodd"/></g><defs><radialGradient id="tg0"><stop offset="0" stop-color="#c8f096" stop-opacity="0.45"/><stop offset="1" stop-color="#c8f096" stop-opacity="0"/></radialGradient><radialGradient id="tg1"><stop offset="0" stop-color="#c8ec9a" stop-opacity="0.5"/><stop offset="1" stop-color="#c8ec9a" stop-opacity="0"/></radialGradient><radialGradient id="tg2"><stop offset="0" stop-color="#c8ea96" stop-opacity="0.4"/><stop offset="1" stop-color="#c8ea96" stop-opacity="0"/></radialGradient><radialGradient id="tg3"><stop offset="0" stop-color="#30d0e8" stop-opacity="0.25"/><stop offset="1" stop-color="#30d0e8" stop-opacity="0"/></radialGradient><radialGradient id="tg4"><stop offset="0" stop-color="#2aa0f0" stop-opacity="0.35"/><stop offset="1" stop-color="#2aa0f0" stop-opacity="0"/></radialGradient><radialGradient id="tg5"><stop offset="0" stop-color="#30c8e8" stop-opacity="0.3"/><stop offset="1" stop-color="#30c8e8" stop-opacity="0"/></radialGradient><radialGradient id="tg6"><stop offset="0" stop-color="#28b8ec" stop-opacity="0.4"/><stop offset="1" stop-color="#28b8ec" stop-opacity="0"/></radialGradient><radialGradient id="tg7"><stop offset="0" stop-color="#38cce4" stop-opacity="0.3"/><stop offset="1" stop-color="#38cce4" stop-opacity="0"/></radialGradient></defs><g clip-path="url(#blobclip)"><ellipse cx="740" cy="395" rx="85" ry="28" fill="url(#tg0)"/><ellipse cx="625" cy="318" rx="32" ry="10" fill="url(#tg1)"/><ellipse cx="930" cy="612" rx="70" ry="16" fill="url(#tg2)"/><ellipse cx="640" cy="600" rx="90" ry="45" fill="url(#tg3)"/><ellipse cx="760" cy="355" rx="25" ry="18" fill="url(#tg4)"/><ellipse cx="880" cy="262" rx="25" ry="14" fill="url(#tg5)"/><ellipse cx="112" cy="300" rx="22" ry="38" fill="url(#tg6)"/><ellipse cx="220" cy="515" rx="75" ry="14" fill="url(#tg7)"/></g><path d="M500.0 160.7 L527.6 158.0 L555.3 155.2 L582.9 156.6 L610.6 157.3 L638.2 158.0 L652.0 160.7 L656.2 174.6 L654.8 185.6 L656.2 202.2 L652.0 211.9 L638.2 214.6 L617.5 216.0 L596.8 217.4 L582.9 214.6 L562.2 209.1 L541.5 200.8 L527.6 193.9 L513.8 191.1 L500.0 192.5 Z M283.1 161.4 L296.8 159.8 L299.8 170.5 L298.3 182.7 L295.3 191.9 L286.1 195.0 L283.1 185.8 Z M341.1 198.0 L348.7 195.0 L364.0 196.5 L365.5 205.6 L348.7 207.2 L341.1 204.1 Z M348.7 175.1 L362.4 173.6 L365.5 182.7 L353.3 184.3 Z M442.5 174.1 L460.5 170.5 L473.1 163.4 L503.6 159.8 L503.6 193.9 L485.6 199.3 L476.6 206.5 L460.5 204.7 L446.1 193.9 Z M417.3 168.8 L431.7 167.0 L449.7 172.3 L447.9 181.3 L431.7 181.3 L419.1 177.7 Z M1234.4 207.0 L1250.6 199.8 L1275.8 194.4 L1304.6 191.9 L1326.2 199.8 L1329.8 217.8 L1311.8 228.6 L1293.8 228.6 L1257.8 219.6 L1236.2 212.4 Z M1038.3 696.3 L1059.9 692.7 L1095.9 690.9 L1131.9 689.1 L1167.9 687.3 L1193.1 683.7 L1221.8 681.9 L1257.8 678.3 L1293.8 674.7 L1310.0 678.3 L1304.6 696.3 L1311.8 714.3 L1337.0 725.1 L1340.6 735.9 L1293.8 739.5 L1268.6 728.7 L1261.4 717.9 L1239.8 707.1 L1203.9 708.9 L1167.9 710.7 L1131.9 708.9 L1095.9 714.3 L1059.9 717.9 L1041.9 707.1 Z" fill="url(#dp)"/><g fill="#6cf5c6"><circle cx="142.5" cy="184.3" r="4.7"/><circle cx="155.8" cy="182.9" r="4.7"/><circle cx="161.2" cy="186.5" r="4.7"/><circle cx="177.4" cy="184.3" r="4.7"/><circle cx="184.6" cy="185.4" r="4.7"/><circle cx="191.8" cy="187.2" r="4.7"/><circle cx="208.0" cy="173.9" r="4.7"/><circle cx="214.4" cy="165.6" r="4.7"/><circle cx="223.4" cy="155.5" r="4.7"/><circle cx="224.1" cy="172.8" r="4.7"/><circle cx="233.1" cy="168.1" r="4.7"/><circle cx="243.2" cy="152.3" r="4.7"/><circle cx="240.3" cy="181.1" r="4.7"/><circle cx="245.7" cy="174.6" r="4.7"/><circle cx="252.9" cy="172.1" r="4.7"/><circle cx="194.3" cy="210.6" r="4.7"/><circle cx="296.1" cy="163.1" r="4.7"/><circle cx="296.1" cy="172.8" r="4.7"/><circle cx="290.7" cy="180.0" r="4.7"/><circle cx="287.1" cy="192.6" r="4.7"/><circle cx="368.1" cy="166.3" r="4.7"/><circle cx="409.5" cy="163.8" r="4.7"/><circle cx="482.5" cy="154.1" r="4.7"/><circle cx="1070.7" cy="289.7" r="4.7"/><circle cx="1081.5" cy="282.5" r="4.7"/><circle cx="1092.3" cy="277.1" r="4.7"/><circle cx="1095.9" cy="291.5" r="4.7"/><circle cx="1110.3" cy="277.1" r="4.7"/><circle cx="1115.7" cy="268.1" r="4.7"/><circle cx="1106.7" cy="271.7" r="4.7"/><circle cx="899.4" cy="665.7" r="4.7"/><circle cx="913.8" cy="663.9" r="4.7"/><circle cx="939.0" cy="663.9" r="4.7"/><circle cx="131.7" cy="734.1" r="4.7"/><circle cx="410.2" cy="163.4" r="4.7"/><circle cx="356.3" cy="177.7" r="4.7"/><circle cx="361.6" cy="181.3" r="4.7"/><circle cx="350.9" cy="178.6" r="4.7"/><circle cx="1069.5" cy="291.8" r="4.7"/><circle cx="1076.7" cy="286.4" r="4.7"/><circle cx="1083.9" cy="282.8" r="4.7"/><circle cx="1092.9" cy="277.4" r="4.7"/><circle cx="1094.7" cy="291.8" r="4.7"/><circle cx="1109.1" cy="277.4" r="4.7"/><circle cx="1116.3" cy="268.4" r="4.7"/><circle cx="1119.9" cy="266.6" r="4.7"/><circle cx="1080.3" cy="284.6" r="4.7"/><circle cx="1089.3" cy="280.1" r="4.7"/><circle cx="907.0" cy="667.0" r="4.7"/><circle cx="916.0" cy="665.0" r="4.7"/><circle cx="939.4" cy="665.0" r="4.7"/><circle cx="948.4" cy="663.0" r="4.7"/><circle cx="130.6" cy="221.4" r="4.7"/><circle cx="137.8" cy="225.0" r="4.7"/><circle cx="150.4" cy="223.2" r="4.7"/><circle cx="142.0" cy="219.0" r="4.7"/><circle cx="1190.0" cy="541.4" r="4.7"/><circle cx="1211.4" cy="537.1" r="4.7"/><circle cx="1222.1" cy="535.0" r="4.7"/><circle cx="1243.5" cy="535.0" r="4.7"/><circle cx="1215.7" cy="511.4" r="4.7"/><circle cx="1177.1" cy="543.5" r="4.7"/><circle cx="1196.4" cy="547.8" r="4.7"/><circle cx="1168.5" cy="539.2" r="4.7"/></g><ellipse cx="963.5" cy="618" rx="3.2" ry="2.2" fill="#000"/><g><circle cx="568.4" cy="331.1" r="4.7" fill="#1ec8e6"/><circle cx="600.0" cy="285.0" r="6" fill="#3cd2e6"/><circle cx="608.0" cy="296.0" r="5" fill="#32c8e6"/><circle cx="615.0" cy="318.0" r="6" fill="#b4eaa0"/><circle cx="630.0" cy="322.0" r="5" fill="#a8f0a0"/><circle cx="640.0" cy="312.0" r="5" fill="#b4e696"/><circle cx="712.3" cy="336.5" r="5.5" fill="#f0c882"/><circle cx="709.0" cy="341.0" r="4.7" fill="#e6d28c"/><circle cx="750.0" cy="352.0" r="7" fill="#3c8cf0"/><circle cx="760.0" cy="360.0" r="7" fill="#2896f0"/><circle cx="772.0" cy="350.0" r="6" fill="#46a0f0"/><circle cx="745.0" cy="364.0" r="6" fill="#2aa8f0"/><circle cx="766.0" cy="372.0" r="5" fill="#34b4ec"/><circle cx="764.5" cy="340.8" r="5.5" fill="#7828f5"/><circle cx="803.3" cy="365.3" r="4.7" fill="#3278f0"/><circle cx="710.0" cy="390.0" r="5" fill="#e6d28c"/><circle cx="725.0" cy="395.0" r="5" fill="#dcd68c"/><circle cx="735.0" cy="388.0" r="4.7" fill="#c8e096"/><circle cx="866.0" cy="250.0" r="6" fill="#2ad2e6"/><circle cx="876.0" cy="262.0" r="6" fill="#34d0e8"/><circle cx="860.0" cy="266.0" r="5" fill="#3ccce6"/><circle cx="874.0" cy="279.0" r="5" fill="#c8e696"/><circle cx="525.0" cy="498.0" r="4.7" fill="#1eb4ee"/><circle cx="536.0" cy="556.0" r="6" fill="#1e96f0"/><circle cx="540.0" cy="552.0" r="5" fill="#2a8cf0"/><circle cx="583.0" cy="597.0" r="4.7" fill="#c8e696"/><circle cx="615.0" cy="617.0" r="5" fill="#d2dc8c"/><circle cx="595.0" cy="588.0" r="4.7" fill="#1eb4ee"/><circle cx="681.7" cy="608.0" r="4.7" fill="#f5aa64"/><circle cx="653.0" cy="621.0" r="5" fill="#3282f0"/><circle cx="704.0" cy="625.0" r="4.7" fill="#5a50f0"/><circle cx="622.0" cy="646.0" r="4.7" fill="#1eaaf0"/><circle cx="910.0" cy="621.0" r="4.7" fill="#2a90f0"/><circle cx="866.0" cy="600.0" r="5" fill="#b4eaa0"/><circle cx="880.0" cy="608.0" r="5" fill="#bee696"/><circle cx="892.0" cy="614.0" r="4.7" fill="#aaf0a0"/></g></g><g clip-path="url(#mapclip)"><path d="M104.4 201.6 L112.2 202.7 L104.4 204.2 M104.4 210.5 L113.3 213.8 L122.1 217.6 L121.6 219.6 L126.5 217.4 L133.2 218.2 L136.5 221.5 L133.2 223.2 L128.7 223.2 L127.6 226.5 L123.2 227.4 L117.7 225.6 L112.2 222.3 L107.7 221.5 L104.4 222.3 M131.5 228.9 L137.6 230.0 L142.6 230.9 L136.5 231.5 L131.5 229.8 M260.0 207.7 L252.6 211.2 L238.2 207.9 L210.6 205.5 L194.0 203.8 L185.1 201.9 L175.2 204.2 L163.0 207.1 L160.3 210.5 L149.8 211.6 L149.2 213.2 L157.5 215.7 L166.3 219.6 L161.9 220.7 L150.9 221.2 L144.8 222.1 L149.2 224.5 L159.7 225.6 L169.7 225.6 L169.1 228.9 L157.5 230.4 L152.5 233.7 L151.4 237.0 L154.2 239.5 L147.5 240.6 L152.0 242.9 L161.9 241.7 L166.3 244.7 L171.9 246.2 L181.8 245.1 L182.4 248.4 L175.2 254.1 L156.4 260.2 L157.5 261.6 L168.6 257.7 L181.8 253.0 L191.8 248.6 L197.3 244.2 L206.1 237.5 L199.5 239.8 L197.3 243.1 L203.9 244.0 L212.8 240.9 L217.2 238.7 L232.7 241.7 L242.6 243.1 L249.3 246.4 L260.0 248.6 M191.8 249.7 L196.2 245.3 L200.6 249.7 L194.0 253.0 L191.8 249.7 M260.0 248.6 L269.2 258.1 L278.0 266.9 L286.8 274.6 L298.9 280.1 L302.2 285.5 L295.6 286.6 L293.4 302.0 L296.7 315.2 L308.8 328.4 L319.8 335.4 M264.4 262.0 L269.2 264.7 L271.9 269.1 L267.0 266.9 L264.4 262.0 M281.3 273.5 L291.2 276.8 L293.4 280.1 L284.6 277.9 L281.3 273.5 M260.0 207.7 L275.8 206.4 L282.4 204.9 L291.2 207.5 L297.8 205.8 L311.0 208.6 L319.8 210.8 M250.0 247.4 L260.6 248.1 L269.3 257.4 L281.0 269.0 L288.7 274.8 L296.4 280.6 L298.4 284.5 L295.5 294.2 L296.4 309.7 L302.2 319.3 L310.0 329.0 L317.7 331.9 L323.5 340.6 L327.4 345.5 L333.2 348.4 L344.8 358.0 L354.5 365.8 L359.3 371.6 L360.3 379.3 L368.0 383.2 L377.7 387.1 L391.3 393.8 L402.9 394.8 L414.5 400.6 L420.3 402.5 L430.0 410.3 L435.8 417.1 M264.5 262.3 L269.3 264.2 L271.3 269.0 L267.4 266.1 L264.5 262.3 M281.0 274.8 L288.7 276.8 L300.3 281.6 L302.2 286.4 L294.5 280.6 L281.0 274.8 M327.4 340.6 L333.2 340.6 L335.1 344.5 L332.2 348.4 L335.1 356.1 L340.9 363.8 L346.7 368.7 L342.9 369.6 L337.1 361.9 L329.3 352.2 L327.4 340.6 M443.5 340.6 L444.5 348.4 L447.4 360.0 L445.4 361.9 L439.6 356.1 L435.8 348.4 L431.9 345.5 L424.1 343.5 L414.5 344.5 L402.9 345.5 L393.2 350.3 L387.4 356.1 L386.4 367.7 L389.3 379.3 L397.1 384.2 L408.7 383.2 L412.5 377.4 L420.3 373.5 L425.1 375.4 L420.3 379.3 L419.3 394.8 L428.0 392.9 L435.8 394.8 L439.6 400.6 L435.8 406.4 L437.7 417.1 M443.5 340.6 L445.4 334.8 L455.1 327.1 L460.9 321.3 L459.0 315.5 L462.8 311.6 L468.7 307.7 L480.3 303.9 L486.1 298.0 L493.8 296.1 L501.5 292.2 L513.2 289.3 L519.0 288.4 L530.0 284.5 M430.9 373.5 L437.7 369.6 L445.4 368.7 L453.2 371.6 L462.8 377.4 L468.7 379.3 L459.0 380.3 L451.2 375.4 L435.8 373.5 L430.9 373.5 M472.5 381.3 L482.2 380.3 L489.9 384.2 L478.3 386.1 L472.5 383.2 M454.1 385.1 L460.9 386.1 L455.1 387.1 M491.9 385.1 L497.7 385.5 M452.2 356.1 L458.0 357.1 M454.1 363.8 L456.1 365.8 M397.1 241.9 L399.0 245.8 L408.7 250.6 L420.3 254.5 L435.8 258.4 L441.6 261.3 L443.5 267.1 L447.4 271.0 L453.2 269.0 L453.2 263.2 L459.0 257.4 L459.0 249.7 L455.1 243.9 L457.0 240.0 M280.0 205.6 L284.6 207.2 L289.2 206.0 L295.3 208.2 L299.8 209.5 L310.5 210.5 L316.6 211.8 L325.8 214.0 L335.0 214.8 L347.2 215.6 L356.3 214.0 L365.5 213.3 L374.7 213.3 L383.8 214.8 L393.0 216.3 L397.6 211.8 L405.2 207.2 L411.3 207.2 L417.4 213.3 L423.5 214.8 L426.6 210.2 L432.7 207.2 L441.8 210.2 L443.4 213.3 L438.8 216.3 L429.6 219.4 L425.0 225.5 M425.0 225.5 L414.4 228.5 L402.1 233.1 L397.6 243.8 L406.7 251.5 L417.4 254.5 L429.6 257.6 L438.8 259.8 L441.8 266.7 L446.4 271.3 L452.5 269.8 L453.3 262.1 L459.4 256.0 L460.9 246.9 L457.1 239.2 L452.5 233.1 L447.9 230.1 M289.2 200.3 L294.5 193.4 L307.5 191.9 L316.6 195.0 L315.9 201.1 L310.5 203.8 L298.3 202.6 L289.2 200.3 M314.4 198.8 L325.8 196.2 L338.0 197.7 L348.7 195.3 L362.4 196.2 L365.5 201.1 L374.7 205.6 L377.7 208.7 L386.9 207.2 L397.6 210.2 L393.7 216.3 L377.7 214.8 L359.4 212.5 L347.2 215.9 L328.9 214.8 L325.8 211.8 L316.6 207.2 L314.4 198.8 M300.6 185.8 L310.5 182.0 L324.3 180.9 L318.9 184.0 L316.6 185.8 L322.7 187.6 L333.4 186.1 L344.1 185.0 L356.3 186.6 L358.2 189.6 L348.7 190.7 L338.0 189.2 L325.8 189.9 L316.6 188.4 L304.4 187.6 L300.6 185.8 M332.7 180.0 L341.1 176.6 L346.4 178.9 L338.0 181.5 L332.7 180.0 M360.9 175.9 L374.7 176.9 L381.5 178.9 L371.6 179.4 L360.9 175.9 M370.1 185.8 L379.2 183.8 L386.9 185.8 L383.8 189.2 L371.6 188.4 L370.1 185.8 M370.1 198.3 L377.7 195.3 L386.9 196.5 L389.9 199.8 L380.8 201.4 L370.1 198.3 M385.3 176.6 L396.0 177.4 L398.3 180.0 L386.9 180.0 L385.3 176.6 M393.0 189.2 L402.1 187.6 L406.7 190.7 L396.0 191.5 L393.0 189.2 M454.0 222.4 L463.2 219.4 L472.4 222.4 L469.3 226.3 L457.1 226.3 L454.0 222.4 M432.7 228.5 L440.3 230.1 M447.9 234.7 L449.5 235.4 M408.0 165.3 L439.1 161.6 L471.8 160.8 L511.0 164.2 L491.4 170.3 L473.4 178.4 L494.7 181.7 L471.8 180.9 L455.4 184.2 L439.1 181.7 L422.7 177.6 L408.0 176.0 L403.1 171.1 L408.0 165.3 M412.9 183.3 L430.9 182.5 L447.2 185.0 L452.1 189.1 L439.1 190.7 L414.5 189.1 L412.9 183.3 M414.5 196.4 L430.9 194.0 L447.2 196.4 L463.6 200.5 L481.6 204.6 L493.0 210.3 L504.5 216.9 L511.0 218.5 L506.1 222.6 L494.7 220.1 L491.4 222.6 L499.6 229.1 L496.3 234.8 L484.8 232.4 L470.1 226.7 L455.4 225.9 L453.8 223.4 L470.1 220.1 L465.2 213.6 L444.0 208.7 L430.9 205.4 L419.4 203.8 L414.5 196.4 M511.0 164.2 L496.3 167.8 L488.1 172.7 L475.0 179.2 L484.8 184.2 L504.5 185.8 L519.2 187.4 L529.0 195.6 L533.9 202.1 L547.0 206.2 L543.7 208.7 L538.8 216.9 L543.7 226.7 L553.5 235.7 L571.5 241.4 M500.0 162.1 L511.1 164.9 L527.6 165.6 L548.4 164.2 L569.1 167.6 M562.2 164.2 L582.9 161.4 L610.6 160.0 L638.2 161.4 L652.0 163.5 L645.1 167.0 L665.9 166.3 L682.4 168.3 L654.8 172.5 L656.2 175.9 L657.6 181.5 L649.3 184.2 L656.2 187.0 L650.7 191.1 L656.2 193.2 L638.2 199.4 L647.9 202.2 L632.7 206.3 L647.9 205.0 L645.1 209.1 L631.3 211.9 L613.3 214.6 L605.0 218.8 L585.7 222.9 L582.9 228.5 L576.0 232.6 L575.3 238.1 L571.9 242.3 L563.6 239.5 L555.3 238.1 L545.6 228.5 L538.7 218.8 L538.7 214.6 L548.4 209.1 L537.3 206.3 L531.8 200.8 L520.7 188.4 L513.8 185.6 L500.0 184.9 M613.3 165.6 L649.3 165.6 M639.6 221.5 L646.5 220.2 L658.9 220.9 L668.6 219.5 L674.2 221.5 L675.5 224.3 L665.9 228.5 L657.6 229.8 L646.5 227.1 L642.4 225.0 L639.6 221.5 M440.0 417.3 L444.2 420.8 L448.3 416.6 L453.9 415.2 L458.0 418.7 L463.5 411.1 L476.0 405.5 L482.9 406.9 L488.5 411.1 L498.2 413.2 L505.1 411.1 L513.4 411.1 L514.8 416.6 L523.1 424.9 L531.4 427.7 L539.7 429.1 L546.6 434.6 L550.8 441.6 L550.8 447.1 L556.3 449.9 L564.7 454.0 L571.6 456.8 L585.4 458.2 L592.4 462.3 L600.7 466.5 L603.4 473.4 L600.7 483.1 L595.1 490.0 L589.6 495.6 L588.2 508.0 L584.0 517.7 L578.5 527.4 M453.9 417.3 L458.0 427.7 L457.3 435.3 L451.1 441.6 L446.9 446.4 L444.8 452.6 L448.3 457.5 L443.5 463.7 L445.5 470.6 L451.1 477.6 L455.2 485.9 L460.8 495.6 L466.3 500.4 L477.4 508.0 L481.6 512.2 L482.2 527.4 M476.7 405.5 L477.4 411.1 L476.7 416.6 M482.2 520.0 L480.9 533.9 L478.1 547.7 L477.4 561.6 L473.2 572.6 L469.8 578.2 L471.2 585.1 L467.7 594.8 L467.0 603.1 L463.5 608.6 L462.9 617.0 L464.9 628.0 L471.9 633.6 L480.2 637.0 L488.5 639.1 L499.6 637.0 L492.6 635.0 L485.7 629.4 L488.5 623.9 L496.8 614.2 L492.6 605.9 L498.2 601.7 L503.7 594.8 L499.6 590.6 L502.3 587.9 L509.3 585.1 L510.6 582.3 L523.1 579.6 L527.3 575.4 L527.3 569.9 L523.1 565.7 L528.6 568.5 L535.6 567.8 L545.3 560.2 L553.6 550.5 L557.7 540.8 L559.1 535.2 L564.7 530.4 L577.1 526.9 L581.3 524.2 L584.7 519.3 M478.8 632.2 L485.7 628.0 L489.9 635.0 L481.6 636.3 L478.8 632.2 M513.4 626.6 L523.1 625.3 L525.2 626.6 L517.6 628.7 L513.4 626.6 M104.4 738.5 L113.3 737.4 L122.1 739.2 L131.0 737.4 L144.2 739.6 L161.9 741.8 L179.6 742.9 L192.9 741.8 L210.6 743.6 L230.5 740.7 L197.3 736.3 L195.1 733.0 L197.3 730.8 L184.0 728.1 L199.5 727.4 L217.2 726.3 L219.4 724.1 L206.1 720.8 L184.0 718.6 L178.5 713.1 L197.3 714.2 L219.4 710.9 L220.5 707.5 L226.1 706.4 L243.7 706.0 L259.2 703.8 L276.9 704.2 L299.0 703.8 L321.1 703.1 L332.2 702.0 L338.8 706.0 L354.3 706.9 L376.4 706.4 L367.6 703.1 L366.5 698.7 L383.1 699.8 L389.7 701.6 L405.2 700.2 L414.0 698.7 L420.7 700.9 M160.8 718.6 L168.6 717.9 L175.2 721.5 L166.3 722.4 L160.8 718.6 M285.8 700.9 L296.8 703.1 M301.2 700.9 L314.5 701.6 M372.0 695.4 L391.9 697.2 L387.5 698.7 M407.8 700.9 L416.6 698.7 L432.1 700.5 L443.2 702.5 L448.7 700.2 L460.9 702.7 L476.3 700.2 L489.6 698.7 L492.9 695.4 L487.4 688.7 L489.6 681.0 L498.5 675.5 L507.3 671.1 L525.0 666.6 L509.5 673.3 L498.5 678.8 L500.7 684.3 L507.3 688.7 L512.8 695.4 L513.9 702.0 L505.1 706.4 L483.0 710.9 L458.7 712.6 L469.7 716.4 L456.4 718.6 L457.5 723.0 L474.1 726.3 L498.5 728.6 L516.1 731.9 L522.8 735.2 L542.7 730.8 L575.9 731.2 L602.4 727.4 L624.5 725.2 L622.3 721.9 L602.4 720.8 L600.2 717.9 L622.3 713.1 L646.6 709.8 L668.7 705.3 L667.6 702.0 L686.4 694.3 L697.5 693.2 L706.3 694.3 L724.0 693.2 L730.7 693.2 M465.3 695.4 L476.3 693.2 L476.3 688.7 L480.8 685.4 L486.3 688.7 L488.5 695.4 L480.8 697.6 L465.3 696.5 L465.3 695.4 M496.2 725.2 L513.9 725.2 L518.4 724.1 M537.2 725.2 L549.3 720.8 L560.4 716.4 L571.4 717.5 L574.8 723.0 L564.8 726.3 L542.7 727.4 L537.2 725.2 M717.8 694.3 L733.3 692.1 L751.0 688.7 L759.8 692.1 L770.9 689.2 L779.7 689.9 L795.2 689.2 L801.8 692.1 L821.7 690.5 L835.0 687.6 L840.5 684.3 L848.3 687.0 L857.1 688.7 L863.7 685.4 L874.8 683.2 L888.1 681.0 L896.9 678.8 L905.8 675.9 L914.6 675.5 L923.4 678.8 L930.1 681.0 L941.1 681.0 L961.0 682.1 L963.3 686.5 L958.8 688.7 L958.8 693.2 L958.8 696.5 L967.7 696.5 L978.7 688.7 L989.8 687.6 L996.4 683.2 L1007.5 679.9 L1020.8 678.8 L1026.3 676.6 L1029.6 678.8 L1040.7 679.5 M1027.8 679.5 L1047.7 680.3 L1065.4 679.9 L1078.7 674.4 L1089.7 679.5 L1107.4 676.6 L1116.2 675.5 L1122.9 677.7 L1136.1 680.3 L1147.2 677.2 L1167.1 677.2 L1187.0 675.9 L1189.2 673.3 L1193.6 678.1 L1224.6 678.8 L1229.0 682.1 L1251.1 685.4 L1273.3 689.9 L1295.4 692.1 L1313.1 695.4 L1306.4 700.9 L1290.9 706.4 L1287.6 714.2 L1297.6 719.3 L1284.3 719.7 L1274.4 726.3 L1284.3 730.8 L1306.4 736.3 L1321.9 738.5 L1346.2 740.7 M640.0 161.1 L653.3 165.5 L682.0 167.7 L657.7 172.1 L655.5 178.7 L659.9 183.2 L653.3 187.6 L655.5 192.0 L648.8 196.4 L653.3 200.9 L646.6 205.3 L640.0 208.6 M759.4 173.2 L772.7 172.1 L790.4 170.3 L816.9 172.1 L812.5 174.8 L794.8 176.5 L783.7 183.2 L772.7 182.1 L763.8 177.6 L759.4 173.2 M797.0 178.7 L808.1 179.9 L799.2 181.0 M878.8 171.0 L900.9 170.3 L887.7 172.6 M900.9 202.0 L916.4 189.4 L934.1 185.4 L960.7 182.7 M960.7 187.2 L938.5 189.8 L923.1 194.2 L914.2 200.4 L922.0 204.2 L905.4 204.2 L900.9 202.0 M740.6 235.1 L743.9 229.6 L757.2 223.0 L772.7 214.1 L790.4 206.4 L808.1 203.1 L823.5 203.5 L830.2 207.5 L850.1 211.9 L863.4 215.2 L865.6 218.6 L854.5 220.8 L841.2 219.0 L845.7 223.0 L847.9 227.4 L854.5 223.0 L870.0 220.8 L874.4 216.3 L878.8 213.0 L883.3 216.3 L894.3 214.1 L909.8 211.9 L927.5 209.7 L934.1 208.6 L960.7 207.5 M703.8 248.0 L708.0 245.9 L714.2 246.6 L716.3 250.7 L714.9 254.9 L720.4 261.8 L725.9 265.9 L730.1 267.3 L728.7 272.2 L721.8 273.5 L713.5 274.2 L703.8 275.6 L709.4 270.1 L706.6 267.3 L708.0 263.2 L705.2 257.6 L703.8 253.5 L703.8 248.0 M687.2 264.6 L690.0 263.2 L695.5 258.3 L701.1 257.6 L703.1 261.8 L701.1 267.3 L695.5 270.1 L690.0 268.7 M724.6 274.2 L717.6 278.4 L708.0 281.1 L712.1 285.3 L719.0 289.4 L719.7 297.7 L710.7 299.1 L698.3 297.7 L691.4 300.5 L692.8 307.4 L691.4 315.7 L694.1 324.0 L701.1 325.4 L706.6 324.0 M730.0 305.7 L734.1 299.9 L746.6 299.1 L754.0 295.3 L759.0 296.6 L761.5 300.7 L767.3 304.9 L774.8 309.0 L779.8 312.3 L780.6 314.8 L778.1 318.1 L779.8 318.1 L783.1 314.8 L785.6 312.3 L787.2 310.7 L783.9 307.4 L778.1 304.0 L773.1 300.7 L769.0 297.0 L766.5 293.3 L770.6 290.8 L774.8 293.3 L777.3 297.4 L788.0 303.2 L791.4 307.4 L795.5 314.8 L799.7 321.5 L802.1 322.3 L804.6 319.0 L807.1 316.5 L803.0 314.0 L801.3 309.9 L804.6 308.2 L808.8 309.0 L812.9 308.2 L815.4 305.7 M754.0 299.9 L756.5 299.9 L756.5 304.0 L756.5 308.2 L756.5 314.0 L753.2 314.0 L752.4 307.4 L754.0 304.0 L754.0 299.9 M766.5 317.3 L771.5 316.5 L776.4 315.7 L776.4 321.5 L771.5 320.6 L766.5 318.1 M730.0 322.3 L738.3 321.5 L746.6 320.6 L754.9 319.8 L760.7 320.6 L759.9 324.8 L758.2 329.8 L763.2 333.1 L771.5 335.6 L776.4 337.2 L781.4 339.7 L788.0 341.4 L791.4 340.5 L793.0 336.4 L796.3 334.7 L800.5 335.6 L804.6 337.2 L808.8 338.9 L812.9 339.7 L821.2 340.5 L829.5 338.0 L837.8 339.7 L843.6 337.2 L846.1 329.8 L847.7 321.5 M804.6 326.0 L813.7 327.3 M834.5 327.3 L842.8 326.0 M810.0 306.9 L818.3 305.7 L820.0 299.0 L824.9 293.2 L830.7 287.4 L836.5 289.9 L839.9 294.9 L844.8 293.2 L845.7 289.9 L851.5 286.6 L858.9 285.8 L853.1 290.7 L854.8 294.9 L861.4 299.0 L867.2 303.2 L864.7 306.5 L856.4 306.5 L844.8 303.2 L834.9 304.0 L824.9 306.9 L815.0 308.6 M815.0 308.6 L813.3 313.1 L816.6 319.8 L826.6 323.1 L834.9 321.8 L848.1 322.2 L846.5 333.0 L841.5 340.5 L826.6 340.5 L810.0 338.0 M834.0 327.2 L843.2 326.4 M884.6 293.2 L892.9 287.4 L907.0 286.6 L907.0 292.4 L897.9 294.9 L902.9 301.5 L907.8 304.8 L912.0 307.3 L907.8 309.0 L909.5 319.8 L901.2 322.2 L892.9 318.9 L892.1 313.9 L896.2 309.8 L887.9 299.0 L884.6 293.2 M706.6 324.0 L712.0 322.0 L717.4 318.0 L724.0 309.0 L726.5 304.8 L735.0 300.4 L750.6 296.0 L754.0 295.5 M692.2 300.0 L692.2 310.8 L694.0 319.8 L703.0 323.4 M703.0 323.4 L694.0 330.6 L686.8 341.4 L677.8 352.2 L668.8 361.2 L665.2 372.0 L667.0 382.8 L663.4 397.2 L670.6 408.0 L679.6 418.7 L695.8 433.1 L712.0 429.5 L726.4 427.7 L739.0 427.7 L748.0 433.1 L755.1 436.7 L756.9 447.5 L762.3 465.5 M703.0 323.4 L715.6 325.2 L724.6 322.5 L740.8 320.7 L756.9 319.8 L762.3 325.2 L760.5 331.5 L765.9 334.2 L776.7 337.8 L787.5 342.3 L794.7 337.8 L801.9 335.1 L812.7 337.8 L828.9 341.4 L841.5 341.4 L846.9 332.4 L848.7 322.5 M835.2 345.0 L843.3 355.8 L852.3 368.4 L859.5 379.2 L866.7 390.0 L872.1 400.8 L873.9 408.0 L884.7 410.1 L900.9 406.5 M843.3 346.8 L848.7 357.6 L855.9 370.2 L863.1 379.2 L868.5 390.0 L871.2 397.2 L872.1 404.4 L900.9 395.0 M900.9 415.1 L888.3 431.3 L873.9 443.9 L864.9 452.9 L859.5 465.5 M756.4 438.4 L754.7 449.8 L756.4 456.4 L764.5 466.2 L769.4 479.2 L771.1 487.4 L766.2 495.6 L763.7 508.7 L769.4 520.1 L774.3 528.3 L776.0 538.1 L784.2 551.2 L787.4 561.0 L792.3 567.6 L805.4 565.1 L818.5 562.6 L828.3 554.5 L834.8 547.9 L836.5 538.1 L844.7 533.2 L846.3 525.0 L843.0 516.9 L854.5 507.0 L862.6 502.1 L864.3 489.1 L861.0 480.9 L857.7 469.4 L862.6 458.0 L870.8 448.2 L882.3 440.0 M875.7 503.8 L882.3 502.1 L892.1 490.7 L897.0 500.5 L893.7 512.0 L887.2 533.2 L879.0 536.5 L874.1 531.6 L874.1 520.1 L875.7 510.3 L875.7 503.8 M860.0 376.3 L866.6 386.2 L871.6 399.5 L874.1 407.8 L884.9 402.0 L901.5 394.5 L914.7 387.9 L923.0 379.6 L930.5 371.3 L926.3 366.3 L919.7 359.7 L918.1 355.6 L909.8 358.9 L903.1 365.5 L896.5 358.9 L889.9 348.1 L891.5 344.0 M891.5 344.0 L898.1 348.1 L903.1 354.7 L914.7 356.4 L918.1 354.7 L923.0 361.4 L952.9 361.4 L962.8 371.3 L974.4 376.3 L976.1 389.6 L986.1 412.8 L991.0 421.1 L997.7 409.5 L999.3 394.5 L1009.3 389.6 L1022.5 378.0 L1035.8 371.3 L1047.4 382.9 L1049.1 392.9 L1057.4 391.2 L1062.4 404.5 L1063.2 412.8 M997.7 414.4 L1002.6 416.1 L1005.1 422.7 L1001.0 427.7 L997.7 422.7 L997.7 414.4 M873.3 407.8 L876.6 412.8 L899.8 407.0 L898.1 416.1 L889.9 432.7 L876.6 444.3 L868.3 452.6 M1100.5 373.0 L1090.6 378.0 L1087.2 382.9 L1092.2 389.6 L1100.5 394.5 M1240.0 243.3 L1229.1 244.4 L1212.7 244.9 L1188.7 259.6 L1195.3 259.6 L1198.5 262.9 L1207.3 262.9 L1211.6 266.2 L1207.3 272.7 L1206.2 280.4 L1200.7 286.9 L1187.6 298.9 L1180.0 300.0 L1171.3 304.4 L1169.1 308.7 L1162.5 312.0 L1164.7 316.4 L1168.0 320.7 L1168.0 326.2 L1161.5 329.5 L1159.3 327.3 L1159.3 320.7 L1154.9 316.4 L1153.8 312.0 L1147.3 310.9 L1142.9 307.6 L1139.6 308.7 L1130.9 313.1 L1128.7 315.3 L1135.3 319.6 L1144.0 320.7 L1136.4 325.1 L1134.2 327.3 L1139.6 332.7 L1144.0 340.4 M1213.8 261.8 L1217.1 261.3 L1218.2 273.8 L1222.5 280.4 L1218.2 280.4 L1216.0 285.8 L1218.2 289.1 L1214.9 291.3 L1212.7 283.6 L1212.7 272.7 L1213.8 261.8 M1206.2 300.0 L1210.5 297.8 L1214.9 293.5 L1218.2 297.8 L1224.7 296.7 L1224.7 299.5 L1217.1 303.3 L1211.6 302.2 L1207.3 304.4 L1206.2 300.0 M1207.3 304.4 L1210.5 307.6 L1212.7 312.0 L1209.5 318.5 L1209.5 326.2 L1196.4 330.5 L1190.9 332.7 L1185.5 331.6 L1180.0 332.7 L1171.3 334.9 L1173.5 340.4 M1207.3 304.4 L1205.1 314.2 L1196.4 320.7 L1192.0 324.0 L1178.9 327.3 L1170.2 333.8 M1178.9 329.5 L1189.8 328.4 L1185.5 333.8 L1178.9 333.8 M1140.3 338.4 L1144.3 348.5 L1140.3 356.5 L1128.2 362.5 L1116.2 368.5 L1104.2 372.6 L1092.1 376.6 L1088.1 382.6 L1090.1 394.6 M1096.1 376.6 L1104.2 378.6 L1102.1 384.6 L1098.1 384.6 L1096.1 376.6 M1140.3 362.5 L1144.3 362.5 L1142.3 370.5 L1138.3 372.6 L1140.3 362.5 M900.0 213.1 L912.4 211.5 L931.1 210.0 L946.6 208.4 L959.1 213.1 L954.4 205.3 L962.2 199.1 L974.6 198.5 L971.5 205.3 L980.9 202.2 L980.9 213.1 L971.5 219.3 L980.9 214.6 L984.0 200.6 L1002.6 199.1 L1002.6 196.0 L1024.4 191.3 L1043.1 186.6 L1067.9 183.5 L1086.6 180.4 L1105.2 185.1 L1114.6 188.2 L1102.1 192.9 L1117.7 195.4 L1136.3 196.6 L1148.8 196.0 L1164.3 196.0 L1173.7 203.8 L1192.3 202.2 L1204.8 200.6 L1211.0 197.5 M1036.8 171.1 L1052.4 168.6 L1067.9 172.7 L1077.3 175.8 L1086.6 177.9 L1074.2 179.8 L1061.7 176.7 L1046.2 174.2 L1036.8 171.1 M1195.4 188.2 L1211.0 186.6 L1223.4 189.1 L1211.0 190.4 L1195.4 188.2 M1226.5 189.1 L1242.1 189.8 M1207.9 195.4 L1220.3 196.0 M1087.3 380.0 L1095.6 388.3 L1100.8 396.6 L1099.8 409.0 L1086.3 418.4 L1079.0 411.1 L1070.7 402.8 L1066.6 402.8 M1137.1 386.2 L1145.4 384.1 L1145.4 392.4 L1143.3 400.7 L1153.7 407.0 L1157.8 417.3 L1157.8 429.8 L1149.5 421.5 L1141.2 409.0 L1137.1 392.4 L1137.1 386.2 M1126.7 419.4 L1135.0 409.0 M1163.0 442.2 L1165.1 450.5 M1157.8 458.8 L1174.4 458.8 M1115.5 523.2 L1125.9 518.9 L1139.7 515.4 L1144.9 509.4 L1151.8 502.5 L1160.5 496.4 L1169.1 497.3 L1172.6 492.1 L1179.5 487.8 L1193.3 489.5 L1191.6 497.3 L1196.8 504.2 L1207.1 509.4 L1212.3 493.8 L1214.0 485.2 L1220.9 495.5 L1227.9 511.1 L1238.2 521.5 L1248.6 531.8 L1252.0 542.2 L1252.0 552.6 L1246.9 564.7 L1239.9 578.5 L1227.9 581.9 L1220.9 579.3 L1210.6 578.5 L1203.7 571.6 L1196.8 566.4 L1195.0 562.9 L1186.4 559.5 L1174.3 556.9 L1160.5 557.7 L1148.4 561.2 L1134.6 568.1 L1124.2 569.0 L1119.0 562.9 L1120.7 552.6 L1115.5 538.7 L1113.8 531.8 L1115.5 523.2 M1220.9 588.8 L1233.0 588.8 L1234.8 594.0 L1229.6 599.2 L1224.4 595.8 L1220.9 588.8 M1317.7 566.4 L1324.6 571.6 L1328.1 578.5 L1338.4 578.5 L1333.2 585.4 L1326.3 592.3 L1322.9 588.8 L1321.1 581.9 L1317.7 566.4 M1319.4 588.0 L1322.9 592.3 L1314.2 600.9 L1303.9 607.9 L1297.0 606.1 L1303.9 600.9 L1312.5 592.3 L1319.4 588.0 M1122.4 192.1 L1150.0 194.2 L1163.8 195.6 L1168.0 200.4 L1176.3 204.6 L1179.0 201.1 L1191.5 201.8 L1205.3 202.5 L1205.3 197.6 L1216.3 197.0 L1238.5 199.0 L1249.5 203.9 L1271.6 204.6 L1275.8 208.7 L1302.0 208.7 L1307.6 211.5 L1310.3 207.3 L1329.7 208.7 L1350.4 210.8 M1195.6 188.0 L1205.3 185.9 L1221.9 187.3 L1221.9 190.0 L1205.3 191.4 L1195.6 189.4 L1195.6 188.0 M1227.4 188.0 L1242.6 190.0 L1232.9 190.7 L1227.4 188.7 M1205.3 195.6 L1217.7 196.3 M1339.4 203.2 L1350.4 203.9 M1212.2 245.3 L1239.8 243.9 L1245.4 246.0 L1255.0 244.6 L1260.6 237.7 L1271.6 235.0 L1274.4 239.1 L1282.7 235.0 L1288.2 232.9 L1290.3 233.6 L1284.1 239.1 L1278.5 241.2 L1267.5 246.0 L1262.0 250.2 L1259.2 255.7 L1263.3 272.3 L1271.6 266.8 L1277.2 264.0 L1281.3 258.5 L1285.5 248.8 L1288.2 243.3 L1302.0 241.9 L1315.9 236.3 L1336.6 232.2 L1343.5 229.4 L1335.2 226.7 L1350.4 224.6 M1098.9 442.8 L1102.1 440.7 L1112.8 437.5 L1125.7 425.7 L1130.0 424.6 L1134.3 432.1 L1132.1 442.8 L1130.0 449.3 L1125.7 455.7 L1121.4 462.1 L1110.7 460.0 L1104.3 455.7 L1100.0 449.3 L1098.9 442.8 M1136.4 447.6 L1145.0 446.1 L1153.5 443.9 M1137.5 451.4 L1139.6 460.0 L1142.8 466.4 L1147.1 466.8 L1142.8 457.8 L1147.1 453.6 M1163.2 442.8 L1165.3 449.3 M1157.8 460.0 L1168.5 458.9 L1177.1 460.4 M1175.0 451.4 L1187.8 451.4 L1194.2 456.1 L1207.1 454.0 L1224.2 462.1 L1228.5 470.7 L1241.4 483.5 L1230.7 481.4 L1217.8 475.0 L1205.0 477.1 L1198.5 472.8 L1187.8 468.6 L1179.2 457.8 L1175.0 451.4 M1232.8 468.6 L1243.5 464.3 L1247.8 460.0 L1243.5 456.8 L1249.9 462.1 L1245.7 468.6 L1234.9 469.6 M1256.4 466.4 L1264.9 472.8 L1275.6 479.3 L1283.1 485.7 M1297.1 498.5 L1301.4 505.0 M1289.6 516.8 L1299.2 524.3 M1334.6 510.3 L1342.1 505.0 M1150.3 482.5 L1162.1 477.1 M173.8 370.5 L178.0 372.5 L183.0 375.0 L188.0 378.0 L191.5 382.5 M961.0 617.5 L966.0 618.5 M501.4 239.9 L506.3 244.9 L512.1 252.3 L511.3 254.8 L516.3 256.5 L522.9 258.1 L527.1 260.6 L531.2 263.9 L532.0 269.8 L527.9 271.4 L518.8 273.1 L516.3 275.6 L508.8 274.7 L494.7 274.7 L486.4 278.0 L478.1 287.2 M527.9 271.4 L522.9 278.0 L518.8 283.0 L522.9 284.7 L531.2 285.5 L537.8 288.0 L542.0 286.3 L541.2 279.7 L535.4 277.2 L529.6 275.6 L527.9 271.4 M501.4 239.9 L498.0 244.0 L491.4 248.2 L484.8 244.9 L483.1 238.2 L474.8 236.6 L469.0 233.3 L454.9 233.3 L456.6 241.6 L453.3 245.7 L459.1 249.9 L459.1 254.8 L450.0 259.8 L452.4 264.8 L451.6 269.8 L448.3 272.2 L441.7 266.4 L440.0 259.0 M453.3 225.8 L456.6 223.3 L467.4 222.5 L469.0 220.0 M452.4 225.8 L454.9 227.5 L466.5 227.5 L474.8 230.0 L486.4 233.3 L496.4 234.9 L499.7 231.6 L498.0 227.5 L493.1 223.3 L489.8 220.0 M538.7 220.0 L543.6 225.0 L545.3 228.3 L551.9 233.3 L556.1 237.4 L561.1 239.5 M484.8 295.5 L498.0 292.1 L514.6 289.7 L517.9 290.5 M498.0 280.5 L499.7 286.3 L503.0 288.8 L514.6 289.7 M493.9 277.2 L511.3 278.9 M740.8 233.6 L739.9 240.8 L743.5 248.0 L749.8 249.8 L756.9 248.9 L755.1 255.1 L759.6 261.4 L766.8 262.3 L770.4 256.9 L777.6 252.5 L782.1 244.4 L782.1 238.1 L789.3 230.0 L798.3 224.6 L810.9 222.4 M810.9 222.4 L800.1 228.2 L796.2 237.2 L801.9 240.8 L821.7 242.2 M821.7 243.5 L809.1 245.3 L805.5 250.1 L798.3 253.7 L793.8 258.7 L787.5 260.9 L773.1 263.8 L765.9 264.5 L756.9 258.7 L755.1 265.9 L748.0 266.8 L735.4 270.4 L724.6 276.7 L715.6 279.4 M755.1 251.6 L756.9 258.7 L764.1 257.8 L760.5 253.4 L755.1 251.6 M1051.6 430.4 L1060.0 431.6 L1072.0 440.0 L1081.6 449.6 L1086.4 459.2 L1088.8 470.0 L1079.2 468.8 L1072.0 459.2 L1062.4 447.2 L1055.2 437.6 L1051.6 430.4 M1045.6 377.6 L1050.4 392.0 L1060.0 401.6 L1062.4 411.2 L1064.8 420.8 L1074.4 432.8 L1082.8 443.6 M1082.8 443.6 L1079.2 432.8 L1069.6 420.8 L1066.0 406.4 L1072.0 402.8 L1084.0 417.2 L1096.0 410.0 L1100.8 399.2 L1097.2 387.2 L1091.2 380.0 M1086.4 470.7 L1100.8 474.1 L1120.0 477.2 L1124.8 478.4 M1124.8 477.2 L1134.4 478.4 L1146.4 476.0 M1148.8 481.3 L1160.8 477.2 M1063.2 412.8 L1069.0 402.8 L1077.3 406.2 L1085.6 417.8 L1092.2 411.1 L1100.5 406.2" fill="none" stroke="#000" stroke-width="2.8" stroke-linejoin="round" stroke-linecap="round"/></g><g stroke="#aaaaaa" stroke-width="2" stroke-dasharray="7.9 3.6" fill="none"><line x1="310.18" y1="138.5" x2="310.18" y2="758.24"/><line x1="516.76" y1="138.5" x2="516.76" y2="758.24"/><line x1="723.34" y1="138.5" x2="723.34" y2="758.24"/><line x1="929.92" y1="138.5" x2="929.92" y2="758.24"/><line x1="1136.50" y1="138.5" x2="1136.50" y2="758.24"/><line x1="103.6" y1="241.79" x2="1343.08" y2="241.79"/><line x1="103.6" y1="345.08" x2="1343.08" y2="345.08"/><line x1="103.6" y1="448.37" x2="1343.08" y2="448.37"/><line x1="103.6" y1="551.66" x2="1343.08" y2="551.66"/><line x1="103.6" y1="654.95" x2="1343.08" y2="654.95"/></g><rect x="103.6" y="138.5" width="1239.48" height="619.74" fill="none" stroke="#000" stroke-width="2.2"/><defs><linearGradient id="cb" x1="0" x2="1" y1="0" y2="0"><stop offset="0.0000" stop-color="#8000ff"/><stop offset="0.0156" stop-color="#780dff"/><stop offset="0.0312" stop-color="#7019ff"/><stop offset="0.0469" stop-color="#6825fe"/><stop offset="0.0625" stop-color="#6032fe"/><stop offset="0.0781" stop-color="#583efd"/><stop offset="0.0938" stop-color="#504afc"/><stop offset="0.1094" stop-color="#4856fb"/><stop offset="0.1250" stop-color="#4062fa"/><stop offset="0.1406" stop-color="#386df9"/><stop offset="0.1562" stop-color="#3078f7"/><stop offset="0.1719" stop-color="#2883f6"/><stop offset="0.1875" stop-color="#208ef4"/><stop offset="0.2031" stop-color="#1898f2"/><stop offset="0.2188" stop-color="#10a2f0"/><stop offset="0.2344" stop-color="#08abee"/><stop offset="0.2500" stop-color="#00b4ec"/><stop offset="0.2656" stop-color="#08bde9"/><stop offset="0.2812" stop-color="#10c5e7"/><stop offset="0.2969" stop-color="#18cde4"/><stop offset="0.3125" stop-color="#20d4e1"/><stop offset="0.3281" stop-color="#28dbde"/><stop offset="0.3438" stop-color="#30e1db"/><stop offset="0.3594" stop-color="#38e7d7"/><stop offset="0.3750" stop-color="#40ecd4"/><stop offset="0.3906" stop-color="#48f0d0"/><stop offset="0.4062" stop-color="#50f4cd"/><stop offset="0.4219" stop-color="#58f7c9"/><stop offset="0.4375" stop-color="#60fac5"/><stop offset="0.4531" stop-color="#68fcc1"/><stop offset="0.4688" stop-color="#70febd"/><stop offset="0.4844" stop-color="#78ffb9"/><stop offset="0.5000" stop-color="#80ffb4"/><stop offset="0.5156" stop-color="#87ffb0"/><stop offset="0.5312" stop-color="#8ffeab"/><stop offset="0.5469" stop-color="#97fca7"/><stop offset="0.5625" stop-color="#9ffaa2"/><stop offset="0.5781" stop-color="#a7f79d"/><stop offset="0.5938" stop-color="#aff498"/><stop offset="0.6094" stop-color="#b7f093"/><stop offset="0.6250" stop-color="#bfec8e"/><stop offset="0.6406" stop-color="#c7e788"/><stop offset="0.6562" stop-color="#cfe183"/><stop offset="0.6719" stop-color="#d7db7e"/><stop offset="0.6875" stop-color="#dfd478"/><stop offset="0.7031" stop-color="#e7cd73"/><stop offset="0.7188" stop-color="#efc56d"/><stop offset="0.7344" stop-color="#f7bd67"/><stop offset="0.7500" stop-color="#ffb462"/><stop offset="0.7656" stop-color="#ffab5c"/><stop offset="0.7812" stop-color="#ffa256"/><stop offset="0.7969" stop-color="#ff9850"/><stop offset="0.8125" stop-color="#ff8e4a"/><stop offset="0.8281" stop-color="#ff8344"/><stop offset="0.8438" stop-color="#ff783e"/><stop offset="0.8594" stop-color="#ff6d38"/><stop offset="0.8750" stop-color="#ff6232"/><stop offset="0.8906" stop-color="#ff562c"/><stop offset="0.9062" stop-color="#ff4a25"/><stop offset="0.9219" stop-color="#ff3e1f"/><stop offset="0.9375" stop-color="#ff3219"/><stop offset="0.9531" stop-color="#ff2513"/><stop offset="0.9688" stop-color="#ff190d"/><stop offset="0.9844" stop-color="#ff0d06"/><stop offset="1.0000" stop-color="#ff0000"/></linearGradient></defs><rect x="104.0" y="818.9" width="1239.80" height="30.90" fill="url(#cb)" stroke="#000" stroke-width="2.2"/><g stroke="#000" stroke-width="2"><line x1="219.00" y1="849.8" x2="219.00" y2="859.50"/><line x1="435.60" y1="849.8" x2="435.60" y2="859.50"/><line x1="652.20" y1="849.8" x2="652.20" y2="859.50"/><line x1="868.80" y1="849.8" x2="868.80" y2="859.50"/><line x1="1085.40" y1="849.8" x2="1085.40" y2="859.50"/><line x1="1302.00" y1="849.8" x2="1302.00" y2="859.50"/></g><g font-family="'Liberation Sans', sans-serif" fill="#000" stroke="#000" stroke-width="0.35"><text xml:space="preserve" x="723.50" y="45.70" font-size="34.00" text-anchor="middle" textLength="722.60" lengthAdjust="spacingAndGlyphs">satwind   windNorthward m/s nlocs:278424</text><text xml:space="preserve" x="103.60" y="120.20" font-size="30.56" text-anchor="middle" textLength="66.91" lengthAdjust="spacingAndGlyphs">180°</text><text xml:space="preserve" x="103.60" y="796.20" font-size="30.56" text-anchor="middle" textLength="66.91" lengthAdjust="spacingAndGlyphs">180°</text><text xml:space="preserve" x="310.18" y="120.20" font-size="30.56" text-anchor="middle" textLength="94.38" lengthAdjust="spacingAndGlyphs">120°W</text><text xml:space="preserve" x="310.18" y="796.20" font-size="30.56" text-anchor="middle" textLength="94.38" lengthAdjust="spacingAndGlyphs">120°W</text><text xml:space="preserve" x="516.76" y="120.20" font-size="30.56" text-anchor="middle" textLength="76.71" lengthAdjust="spacingAndGlyphs">60°W</text><text xml:space="preserve" x="516.76" y="796.20" font-size="30.56" text-anchor="middle" textLength="76.71" lengthAdjust="spacingAndGlyphs">60°W</text><text xml:space="preserve" x="723.34" y="120.20" font-size="30.56" text-anchor="middle" textLength="31.56" lengthAdjust="spacingAndGlyphs">0°</text><text xml:space="preserve" x="723.34" y="796.20" font-size="30.56" text-anchor="middle" textLength="31.56" lengthAdjust="spacingAndGlyphs">0°</text><text xml:space="preserve" x="929.92" y="120.20" font-size="30.56" text-anchor="middle" textLength="66.79" lengthAdjust="spacingAndGlyphs">60°E</text><text xml:space="preserve" x="929.92" y="796.20" font-size="30.56" text-anchor="middle" textLength="66.79" lengthAdjust="spacingAndGlyphs">60°E</text><text xml:space="preserve" x="1136.50" y="120.20" font-size="30.56" text-anchor="middle" textLength="84.47" lengthAdjust="spacingAndGlyphs">120°E</text><text xml:space="preserve" x="1136.50" y="796.20" font-size="30.56" text-anchor="middle" textLength="84.47" lengthAdjust="spacingAndGlyphs">120°E</text><text xml:space="preserve" x="90.00" y="250.79" font-size="30.56" text-anchor="end" textLength="70.02" lengthAdjust="spacingAndGlyphs">60°N</text><text xml:space="preserve" x="1358.50" y="250.79" font-size="30.56" text-anchor="start" textLength="70.02" lengthAdjust="spacingAndGlyphs">60°N</text><text xml:space="preserve" x="90.00" y="354.08" font-size="30.56" text-anchor="end" textLength="70.02" lengthAdjust="spacingAndGlyphs">30°N</text><text xml:space="preserve" x="1358.50" y="354.08" font-size="30.56" text-anchor="start" textLength="70.02" lengthAdjust="spacingAndGlyphs">30°N</text><text xml:space="preserve" x="90.00" y="457.37" font-size="30.56" text-anchor="end" textLength="31.56" lengthAdjust="spacingAndGlyphs">0°</text><text xml:space="preserve" x="1358.50" y="457.37" font-size="30.56" text-anchor="start" textLength="31.56" lengthAdjust="spacingAndGlyphs">0°</text><text xml:space="preserve" x="90.00" y="560.66" font-size="30.56" text-anchor="end" textLength="66.87" lengthAdjust="spacingAndGlyphs">30°S</text><text xml:space="preserve" x="1358.50" y="560.66" font-size="30.56" text-anchor="start" textLength="66.87" lengthAdjust="spacingAndGlyphs">30°S</text><text xml:space="preserve" x="90.00" y="663.95" font-size="30.56" text-anchor="end" textLength="66.87" lengthAdjust="spacingAndGlyphs">60°S</text><text xml:space="preserve" x="1358.50" y="663.95" font-size="30.56" text-anchor="start" textLength="66.87" lengthAdjust="spacingAndGlyphs">60°S</text><text xml:space="preserve" x="220.00" y="892.00" font-size="30.56" text-anchor="middle" textLength="58.63" lengthAdjust="spacingAndGlyphs">−40</text><text xml:space="preserve" x="436.60" y="892.00" font-size="30.56" text-anchor="middle" textLength="58.63" lengthAdjust="spacingAndGlyphs">−20</text><text xml:space="preserve" x="653.20" y="892.00" font-size="30.56" text-anchor="middle" textLength="17.67" lengthAdjust="spacingAndGlyphs">0</text><text xml:space="preserve" x="869.80" y="892.00" font-size="30.56" text-anchor="middle" textLength="35.35" lengthAdjust="spacingAndGlyphs">20</text><text xml:space="preserve" x="1086.40" y="892.00" font-size="30.56" text-anchor="middle" textLength="35.35" lengthAdjust="spacingAndGlyphs">40</text><text xml:space="preserve" x="1303.00" y="892.00" font-size="30.56" text-anchor="middle" textLength="35.35" lengthAdjust="spacingAndGlyphs">60</text></g>
</svg></body></html>
